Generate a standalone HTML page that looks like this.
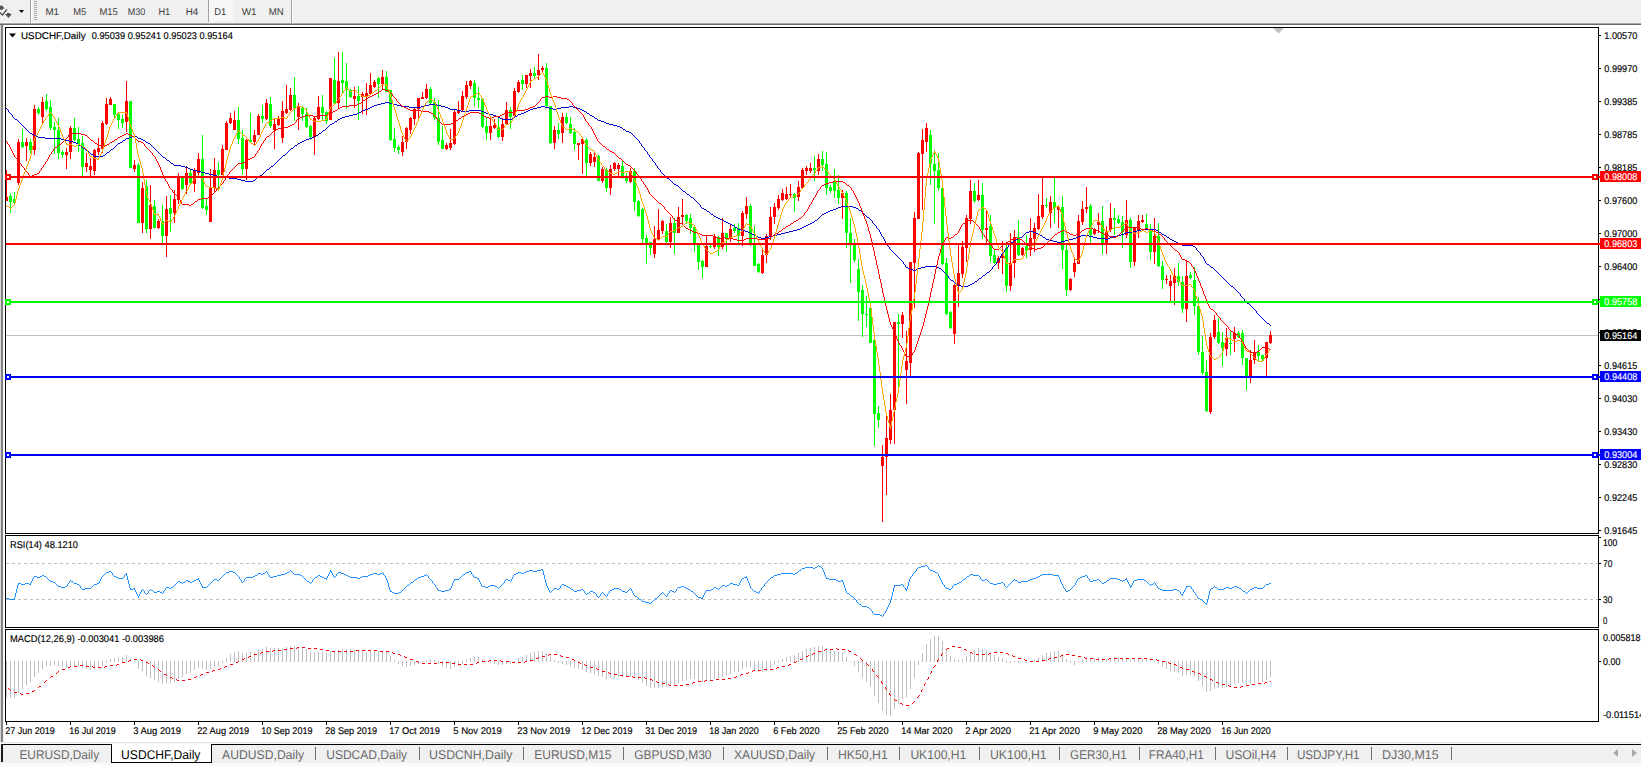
<!DOCTYPE html>
<html><head><meta charset="utf-8"><title>USDCHF,Daily</title>
<style>html,body{margin:0;padding:0;background:#fff;overflow:hidden}svg{display:block}text{font-family:"Liberation Sans",sans-serif;white-space:pre}</style>
</head><body>
<svg width="1641" height="766" viewBox="0 0 1641 766" font-family="Liberation Sans, sans-serif" shape-rendering="crispEdges" text-rendering="geometricPrecision">
<rect x="0" y="0" width="1641" height="766" fill="#fff"/>
<rect x="0" y="0" width="1641" height="23" fill="#f0f0f0"/>
<rect x="0" y="22" width="1641" height="1" fill="#f5f5f5"/>
<rect x="0" y="23" width="1641" height="1" fill="#a8a8a8"/>
<rect x="0" y="24" width="1641" height="1" fill="#696969"/>
<rect x="30" y="0" width="1" height="23" fill="#a0a0a0"/>
<rect x="31" y="0" width="1" height="23" fill="#fff"/>
<rect x="34" y="1" width="3" height="1" fill="#a8a8a8"/>
<rect x="34" y="3" width="3" height="1" fill="#a8a8a8"/>
<rect x="34" y="5" width="3" height="1" fill="#a8a8a8"/>
<rect x="34" y="7" width="3" height="1" fill="#a8a8a8"/>
<rect x="34" y="9" width="3" height="1" fill="#a8a8a8"/>
<rect x="34" y="11" width="3" height="1" fill="#a8a8a8"/>
<rect x="34" y="13" width="3" height="1" fill="#a8a8a8"/>
<rect x="34" y="15" width="3" height="1" fill="#a8a8a8"/>
<rect x="34" y="17" width="3" height="1" fill="#a8a8a8"/>
<rect x="34" y="19" width="3" height="1" fill="#a8a8a8"/>
<g fill="#505050" shape-rendering="geometricPrecision"><path d="M0 6.4 L1.4 5 L4.8 8.4 L3 8.4 L3 9.8 L0 9.8 Z"/><path d="M5 14.1 L11.8 14.1 L8.4 18 Z"/><path d="M7 14.1 V13 H9.8 V14.1Z"/><path d="M0 11.7 L2.4 14 L6.3 9 L7.4 9.9 L2.5 15.9 L0 13.5 Z"/></g>
<path d="M19 10 H24 L21.5 13 Z" fill="#000" shape-rendering="geometricPrecision"/>
<rect x="208" y="0" width="1" height="22" fill="#a0a0a0"/>
<defs><pattern id="chk" width="2" height="2" patternUnits="userSpaceOnUse"><rect width="2" height="2" fill="#f0f0f0"/><rect width="1" height="1" fill="#fff"/><rect x="1" y="1" width="1" height="1" fill="#fff"/></pattern></defs>
<rect x="209" y="0" width="24" height="21" fill="url(#chk)"/>
<rect x="291" y="0" width="1" height="23" fill="#a0a0a0"/>
<rect x="292" y="0" width="1" height="23" fill="#fff"/>
<text x="45.400000000000006" y="15" font-size="9.8" fill="#3c3c3c" stroke="#3c3c3c" stroke-width="0" textLength="13.6" lengthAdjust="spacingAndGlyphs" >M1</text>
<text x="73.3" y="15" font-size="9.8" fill="#3c3c3c" stroke="#3c3c3c" stroke-width="0" textLength="13.0" lengthAdjust="spacingAndGlyphs" >M5</text>
<text x="99.4" y="15" font-size="9.8" fill="#3c3c3c" stroke="#3c3c3c" stroke-width="0" textLength="18.4" lengthAdjust="spacingAndGlyphs" >M15</text>
<text x="127.7" y="15" font-size="9.8" fill="#3c3c3c" stroke="#3c3c3c" stroke-width="0" textLength="17.6" lengthAdjust="spacingAndGlyphs" >M30</text>
<text x="158.39999999999998" y="15" font-size="9.8" fill="#3c3c3c" stroke="#3c3c3c" stroke-width="0" textLength="11.9" lengthAdjust="spacingAndGlyphs" >H1</text>
<text x="185.7" y="15" font-size="9.8" fill="#3c3c3c" stroke="#3c3c3c" stroke-width="0" textLength="12.6" lengthAdjust="spacingAndGlyphs" >H4</text>
<text x="214.29999999999998" y="15" font-size="9.8" fill="#3c3c3c" stroke="#3c3c3c" stroke-width="0" textLength="12.0" lengthAdjust="spacingAndGlyphs" >D1</text>
<text x="241.7" y="15" font-size="9.8" fill="#3c3c3c" stroke="#3c3c3c" stroke-width="0" textLength="15.0" lengthAdjust="spacingAndGlyphs" >W1</text>
<text x="268.7" y="15" font-size="9.8" fill="#3c3c3c" stroke="#3c3c3c" stroke-width="0" textLength="14.9" lengthAdjust="spacingAndGlyphs" >MN</text>
<rect x="1" y="25" width="2" height="717" fill="#828282"/>
<rect x="0" y="25" width="1" height="717" fill="#d8d8d8"/>
<rect x="3" y="25" width="1" height="717" fill="#f4f4f4"/>
<rect x="6" y="335" width="1592" height="1" fill="#c0c0c0"/>
<path fill="#00ff00" d="M10 193h1V213h-1Z M9 196h3V202h-3Z M14 192h1V205h-1Z M13 199h3V203h-3Z M22 129h1V148h-1Z M21 142h3V147h-3Z M30 139h1V153h-1Z M29 142h3V150h-3Z M38 107h1V115h-1Z M37 109h3V113h-3Z M46 94h1V111h-1Z M45 101h3V109h-3Z M50 100h1V130h-1Z M49 107h3V128h-3Z M54 122h1V154h-1Z M53 127h3V130h-3Z M58 118h1V159h-1Z M57 130h3V153h-3Z M62 150h1V158h-1Z M61 152h3V155h-3Z M74 118h1V141h-1Z M73 128h3V140h-3Z M78 127h1V152h-1Z M77 139h3V144h-3Z M82 136h1V176h-1Z M81 143h3V167h-3Z M114 104h1V118h-1Z M113 104h3V115h-3Z M118 113h1V129h-1Z M117 114h3V120h-3Z M122 115h1V128h-1Z M121 119h3V123h-3Z M130 101h1V168h-1Z M129 101h3V168h-3Z M138 163h1V223h-1Z M137 165h3V223h-3Z M146 180h1V233h-1Z M145 186h3V229h-3Z M154 200h1V228h-1Z M153 206h3V228h-3Z M162 205h1V243h-1Z M161 221h3V236h-3Z M170 195h1V232h-1Z M169 208h3V214h-3Z M182 177h1V190h-1Z M181 178h3V189h-3Z M190 169h1V184h-1Z M189 173h3V183h-3Z M202 135h1V209h-1Z M201 159h3V208h-3Z M206 199h1V215h-1Z M205 206h3V210h-3Z M218 162h1V189h-1Z M217 170h3V175h-3Z M238 107h1V144h-1Z M237 120h3V139h-3Z M242 130h1V175h-1Z M241 138h3V169h-3Z M250 113h1V143h-1Z M249 140h3V142h-3Z M262 105h1V123h-1Z M261 116h3V119h-3Z M270 97h1V128h-1Z M269 104h3V126h-3Z M294 77h1V121h-1Z M293 95h3V108h-3Z M302 106h1V121h-1Z M301 108h3V114h-3Z M306 108h1V128h-1Z M305 114h3V127h-3Z M310 125h1V140h-1Z M309 126h3V137h-3Z M322 95h1V121h-1Z M321 107h3V113h-3Z M326 111h1V124h-1Z M325 112h3V121h-3Z M334 58h1V104h-1Z M333 80h3V103h-3Z M342 52h1V94h-1Z M341 80h3V83h-3Z M346 63h1V109h-1Z M345 81h3V90h-3Z M350 89h1V98h-1Z M349 90h3V97h-3Z M358 86h1V120h-1Z M357 96h3V101h-3Z M378 77h1V98h-1Z M377 78h3V84h-3Z M386 71h1V92h-1Z M385 77h3V92h-3Z M390 90h1V141h-1Z M389 90h3V140h-3Z M394 128h1V152h-1Z M393 139h3V148h-3Z M398 145h1V154h-1Z M397 147h3V150h-3Z M430 87h1V104h-1Z M429 89h3V103h-3Z M434 98h1V120h-1Z M433 102h3V118h-3Z M438 100h1V145h-1Z M437 118h3V142h-3Z M442 126h1V149h-1Z M441 140h3V149h-3Z M474 80h1V106h-1Z M473 83h3V98h-3Z M478 87h1V108h-1Z M477 98h3V100h-3Z M482 98h1V128h-1Z M481 99h3V127h-3Z M486 118h1V140h-1Z M485 126h3V133h-3Z M498 116h1V138h-1Z M497 127h3V137h-3Z M510 107h1V129h-1Z M509 110h3V117h-3Z M522 75h1V90h-1Z M521 80h3V84h-3Z M534 67h1V78h-1Z M533 73h3V76h-3Z M546 63h1V107h-1Z M545 68h3V106h-3Z M550 106h1V144h-1Z M549 106h3V143h-3Z M558 123h1V139h-1Z M557 130h3V134h-3Z M566 113h1V124h-1Z M565 117h3V123h-3Z M570 117h1V134h-1Z M569 124h3V133h-3Z M574 128h1V150h-1Z M573 132h3V144h-3Z M586 138h1V176h-1Z M585 140h3V163h-3Z M598 155h1V181h-1Z M597 156h3V181h-3Z M606 168h1V192h-1Z M605 170h3V188h-3Z M622 161h1V179h-1Z M621 166h3V177h-3Z M626 173h1V183h-1Z M625 178h3V181h-3Z M634 168h1V211h-1Z M633 171h3V202h-3Z M638 200h1V217h-1Z M637 201h3V216h-3Z M642 208h1V243h-1Z M641 209h3V239h-3Z M646 235h1V264h-1Z M645 238h3V243h-3Z M650 242h1V255h-1Z M649 242h3V248h-3Z M666 224h1V243h-1Z M665 231h3V242h-3Z M674 218h1V254h-1Z M673 223h3V233h-3Z M686 214h1V224h-1Z M685 215h3V221h-3Z M690 214h1V234h-1Z M689 218h3V228h-3Z M694 225h1V252h-1Z M693 227h3V244h-3Z M698 243h1V270h-1Z M697 244h3V262h-3Z M702 260h1V278h-1Z M701 261h3V267h-3Z M710 245h1V248h-1Z M709 246h3V247h-3Z M718 236h1V256h-1Z M717 237h3V247h-3Z M726 233h1V252h-1Z M725 233h3V239h-3Z M734 224h1V233h-1Z M733 228h3V231h-3Z M738 223h1V243h-1Z M737 228h3V236h-3Z M750 204h1V246h-1Z M749 206h3V243h-3Z M754 226h1V266h-1Z M753 243h3V266h-3Z M758 263h1V273h-1Z M757 264h3V272h-3Z M794 193h1V212h-1Z M793 194h3V198h-3Z M814 156h1V181h-1Z M813 168h3V170h-3Z M822 151h1V171h-1Z M821 159h3V165h-3Z M826 152h1V195h-1Z M825 164h3V188h-3Z M830 185h1V193h-1Z M829 187h3V191h-3Z M834 169h1V198h-1Z M833 182h3V191h-3Z M838 175h1V204h-1Z M837 190h3V198h-3Z M846 191h1V248h-1Z M845 193h3V233h-3Z M850 218h1V283h-1Z M849 233h3V244h-3Z M854 239h1V262h-1Z M853 244h3V260h-3Z M858 259h1V321h-1Z M857 269h3V292h-3Z M862 285h1V337h-1Z M861 290h3V314h-3Z M866 296h1V327h-1Z M865 314h3V315h-3Z M870 308h1V343h-1Z M869 308h3V343h-3Z M874 340h1V446h-1Z M873 340h3V414h-3Z M878 406h1V428h-1Z M877 413h3V420h-3Z M898 314h1V388h-1Z M897 322h3V324h-3Z M930 130h1V185h-1Z M929 135h3V164h-3Z M934 150h1V224h-1Z M933 164h3V171h-3Z M938 153h1V191h-1Z M937 170h3V188h-3Z M942 188h1V265h-1Z M941 188h3V264h-3Z M946 258h1V315h-1Z M945 263h3V314h-3Z M950 311h1V329h-1Z M949 312h3V328h-3Z M974 183h1V203h-1Z M973 191h3V201h-3Z M982 183h1V239h-1Z M981 195h3V230h-3Z M990 215h1V262h-1Z M989 226h3V256h-3Z M994 249h1V264h-1Z M993 255h3V263h-3Z M1006 245h1V292h-1Z M1005 248h3V286h-3Z M1018 220h1V256h-1Z M1017 237h3V255h-3Z M1026 235h1V258h-1Z M1025 246h3V251h-3Z M1046 198h1V208h-1Z M1045 205h3V206h-3Z M1054 178h1V223h-1Z M1053 202h3V208h-3Z M1062 196h1V269h-1Z M1061 207h3V250h-3Z M1066 245h1V296h-1Z M1065 250h3V290h-3Z M1090 204h1V243h-1Z M1089 206h3V235h-3Z M1102 206h1V254h-1Z M1101 221h3V243h-3Z M1114 208h1V235h-1Z M1113 218h3V220h-3Z M1118 215h1V224h-1Z M1117 219h3V223h-3Z M1122 216h1V248h-1Z M1121 222h3V232h-3Z M1130 218h1V268h-1Z M1129 220h3V262h-3Z M1146 214h1V230h-1Z M1145 224h3V229h-3Z M1150 224h1V260h-1Z M1149 229h3V252h-3Z M1158 223h1V267h-1Z M1157 236h3V266h-3Z M1162 261h1V289h-1Z M1161 266h3V280h-3Z M1178 263h1V286h-1Z M1177 276h3V282h-3Z M1182 276h1V313h-1Z M1181 282h3V309h-3Z M1190 272h1V279h-1Z M1189 275h3V278h-3Z M1194 267h1V315h-1Z M1193 280h3V306h-3Z M1198 297h1V355h-1Z M1197 306h3V352h-3Z M1202 336h1V375h-1Z M1201 352h3V373h-3Z M1206 360h1V412h-1Z M1205 372h3V411h-3Z M1218 318h1V344h-1Z M1217 332h3V343h-3Z M1222 332h1V366h-1Z M1221 342h3V348h-3Z M1230 331h1V355h-1Z M1229 343h3V344h-3Z M1238 331h1V338h-1Z M1237 333h3V337h-3Z M1242 330h1V365h-1Z M1241 333h3V358h-3Z M1246 358h1V390h-1Z M1245 358h3V378h-3Z M1258 345h1V362h-1Z M1257 352h3V356h-3Z M1262 355h1V362h-1Z M1261 355h3V359h-3Z"/>
<path fill="#ff0000" d="M6 170h1V201h-1Z M5 197h3V201h-3Z M18 139h1V185h-1Z M17 142h3V183h-3Z M26 138h1V161h-1Z M25 142h3V146h-3Z M34 105h1V155h-1Z M33 109h3V150h-3Z M42 97h1V124h-1Z M41 102h3V117h-3Z M66 148h1V169h-1Z M65 152h3V155h-3Z M70 126h1V159h-1Z M69 128h3V152h-3Z M86 153h1V172h-1Z M85 163h3V167h-3Z M90 158h1V176h-1Z M89 166h3V170h-3Z M94 149h1V175h-1Z M93 150h3V171h-3Z M98 138h1V155h-1Z M97 148h3V152h-3Z M102 121h1V153h-1Z M101 123h3V149h-3Z M106 98h1V125h-1Z M105 104h3V124h-3Z M110 97h1V105h-1Z M109 99h3V105h-3Z M126 81h1V132h-1Z M125 101h3V122h-3Z M134 160h1V172h-1Z M133 165h3V169h-3Z M142 182h1V233h-1Z M141 188h3V223h-3Z M150 185h1V239h-1Z M149 205h3V229h-3Z M158 219h1V229h-1Z M157 221h3V228h-3Z M166 196h1V257h-1Z M165 209h3V236h-3Z M174 190h1V223h-1Z M173 199h3V213h-3Z M178 173h1V204h-1Z M177 178h3V200h-3Z M186 166h1V194h-1Z M185 173h3V185h-3Z M194 168h1V192h-1Z M193 170h3V184h-3Z M198 153h1V175h-1Z M197 159h3V173h-3Z M210 169h1V222h-1Z M209 188h3V222h-3Z M214 158h1V193h-1Z M213 170h3V188h-3Z M222 145h1V175h-1Z M221 149h3V175h-3Z M226 121h1V150h-1Z M225 123h3V150h-3Z M230 113h1V124h-1Z M229 118h3V123h-3Z M234 111h1V130h-1Z M233 120h3V130h-3Z M246 139h1V180h-1Z M245 140h3V169h-3Z M254 130h1V145h-1Z M253 135h3V142h-3Z M258 114h1V135h-1Z M257 116h3V135h-3Z M266 99h1V120h-1Z M265 103h3V119h-3Z M274 118h1V149h-1Z M273 124h3V130h-3Z M278 116h1V126h-1Z M277 119h3V125h-3Z M282 101h1V143h-1Z M281 111h3V138h-3Z M286 85h1V114h-1Z M285 109h3V113h-3Z M290 88h1V111h-1Z M289 95h3V110h-3Z M298 103h1V130h-1Z M297 106h3V117h-3Z M314 116h1V155h-1Z M313 118h3V137h-3Z M318 96h1V120h-1Z M317 107h3V119h-3Z M330 78h1V120h-1Z M329 78h3V120h-3Z M338 52h1V108h-1Z M337 81h3V103h-3Z M354 87h1V108h-1Z M353 96h3V99h-3Z M362 92h1V114h-1Z M361 94h3V97h-3Z M366 83h1V115h-1Z M365 93h3V96h-3Z M370 73h1V94h-1Z M369 85h3V94h-3Z M374 80h1V88h-1Z M373 82h3V87h-3Z M382 70h1V90h-1Z M381 77h3V84h-3Z M402 136h1V156h-1Z M401 142h3V152h-3Z M406 127h1V149h-1Z M405 128h3V142h-3Z M410 117h1V134h-1Z M409 118h3V130h-3Z M414 108h1V125h-1Z M413 109h3V119h-3Z M418 98h1V118h-1Z M417 98h3V109h-3Z M422 92h1V99h-1Z M421 97h3V99h-3Z M426 84h1V99h-1Z M425 89h3V98h-3Z M446 143h1V150h-1Z M445 145h3V149h-3Z M450 129h1V150h-1Z M449 143h3V148h-3Z M454 110h1V145h-1Z M453 112h3V144h-3Z M458 101h1V114h-1Z M457 110h3V113h-3Z M462 91h1V111h-1Z M461 96h3V110h-3Z M466 81h1V99h-1Z M465 85h3V97h-3Z M470 80h1V89h-1Z M469 81h3V86h-3Z M490 117h1V140h-1Z M489 126h3V133h-3Z M494 119h1V129h-1Z M493 125h3V128h-3Z M502 118h1V141h-1Z M501 124h3V137h-3Z M506 102h1V125h-1Z M505 110h3V124h-3Z M514 88h1V117h-1Z M513 91h3V116h-3Z M518 80h1V93h-1Z M517 82h3V92h-3Z M526 75h1V88h-1Z M525 75h3V84h-3Z M530 69h1V88h-1Z M529 73h3V76h-3Z M538 54h1V80h-1Z M537 70h3V75h-3Z M542 66h1V72h-1Z M541 68h3V70h-3Z M554 126h1V149h-1Z M553 130h3V143h-3Z M562 113h1V143h-1Z M561 117h3V133h-3Z M578 143h1V160h-1Z M577 143h3V145h-3Z M582 137h1V174h-1Z M581 139h3V144h-3Z M590 152h1V166h-1Z M589 154h3V163h-3Z M594 151h1V167h-1Z M593 157h3V162h-3Z M602 167h1V183h-1Z M601 169h3V181h-3Z M610 165h1V195h-1Z M609 169h3V188h-3Z M614 162h1V171h-1Z M613 163h3V169h-3Z M618 163h1V176h-1Z M617 165h3V169h-3Z M630 168h1V183h-1Z M629 171h3V182h-3Z M654 226h1V258h-1Z M653 239h3V254h-3Z M658 209h1V240h-1Z M657 230h3V239h-3Z M662 220h1V234h-1Z M661 221h3V231h-3Z M670 217h1V248h-1Z M669 223h3V242h-3Z M678 207h1V233h-1Z M677 217h3V233h-3Z M682 199h1V224h-1Z M681 215h3V217h-3Z M706 235h1V267h-1Z M705 246h3V267h-3Z M714 234h1V249h-1Z M713 236h3V247h-3Z M722 218h1V249h-1Z M721 233h3V247h-3Z M730 224h1V242h-1Z M729 229h3V239h-3Z M742 211h1V246h-1Z M741 213h3V236h-3Z M746 197h1V219h-1Z M745 206h3V214h-3Z M762 250h1V274h-1Z M761 255h3V273h-3Z M766 234h1V263h-1Z M765 236h3V255h-3Z M770 207h1V240h-1Z M769 217h3V237h-3Z M774 203h1V224h-1Z M773 207h3V217h-3Z M778 195h1V210h-1Z M777 199h3V208h-3Z M782 189h1V201h-1Z M781 193h3V200h-3Z M786 187h1V200h-1Z M785 194h3V199h-3Z M790 184h1V198h-1Z M789 194h3V195h-3Z M798 181h1V201h-1Z M797 187h3V197h-3Z M802 168h1V188h-1Z M801 170h3V188h-3Z M806 166h1V175h-1Z M805 168h3V171h-3Z M810 163h1V173h-1Z M809 168h3V171h-3Z M818 154h1V175h-1Z M817 159h3V171h-3Z M842 190h1V219h-1Z M841 193h3V198h-3Z M882 445h1V522h-1Z M881 457h3V466h-3Z M886 416h1V495h-1Z M885 438h3V457h-3Z M890 394h1V444h-1Z M889 410h3V440h-3Z M894 322h1V444h-1Z M893 322h3V410h-3Z M902 312h1V338h-1Z M901 315h3V324h-3Z M906 331h1V404h-1Z M905 361h3V370h-3Z M910 262h1V377h-1Z M909 262h3V363h-3Z M914 212h1V308h-1Z M913 218h3V263h-3Z M918 152h1V219h-1Z M917 153h3V219h-3Z M922 129h1V210h-1Z M921 140h3V154h-3Z M926 123h1V152h-1Z M925 128h3V142h-3Z M954 284h1V344h-1Z M953 285h3V334h-3Z M958 243h1V307h-1Z M957 273h3V286h-3Z M962 241h1V278h-1Z M961 247h3V274h-3Z M966 215h1V262h-1Z M965 218h3V248h-3Z M970 180h1V224h-1Z M969 191h3V219h-3Z M978 180h1V201h-1Z M977 195h3V200h-3Z M986 211h1V243h-1Z M985 228h3V230h-3Z M998 256h1V269h-1Z M997 258h3V263h-3Z M1002 241h1V274h-1Z M1001 254h3V258h-3Z M1010 233h1V291h-1Z M1009 263h3V286h-3Z M1014 230h1V278h-1Z M1013 237h3V263h-3Z M1022 247h1V256h-1Z M1021 248h3V255h-3Z M1030 218h1V256h-1Z M1029 238h3V250h-3Z M1034 223h1V252h-1Z M1033 228h3V239h-3Z M1038 194h1V230h-1Z M1037 216h3V229h-3Z M1042 177h1V219h-1Z M1041 205h3V217h-3Z M1050 196h1V228h-1Z M1049 202h3V213h-3Z M1058 205h1V228h-1Z M1057 207h3V210h-3Z M1070 278h1V291h-1Z M1069 279h3V290h-3Z M1074 258h1V277h-1Z M1073 263h3V272h-3Z M1078 215h1V264h-1Z M1077 221h3V264h-3Z M1082 201h1V225h-1Z M1081 209h3V222h-3Z M1086 187h1V213h-1Z M1085 207h3V209h-3Z M1094 228h1V235h-1Z M1093 229h3V234h-3Z M1098 213h1V233h-1Z M1097 222h3V225h-3Z M1106 226h1V254h-1Z M1105 232h3V244h-3Z M1110 203h1V232h-1Z M1109 218h3V230h-3Z M1126 200h1V238h-1Z M1125 220h3V235h-3Z M1134 227h1V266h-1Z M1133 228h3V262h-3Z M1138 215h1V238h-1Z M1137 221h3V230h-3Z M1142 215h1V223h-1Z M1141 220h3V222h-3Z M1154 218h1V264h-1Z M1153 236h3V252h-3Z M1166 275h1V284h-1Z M1165 279h3V280h-3Z M1170 275h1V301h-1Z M1169 281h3V286h-3Z M1174 268h1V305h-1Z M1173 276h3V283h-3Z M1186 261h1V322h-1Z M1185 276h3V309h-3Z M1210 333h1V414h-1Z M1209 337h3V412h-3Z M1214 315h1V339h-1Z M1213 320h3V337h-3Z M1226 328h1V356h-1Z M1225 338h3V349h-3Z M1234 327h1V352h-1Z M1233 333h3V339h-3Z M1250 350h1V383h-1Z M1249 360h3V378h-3Z M1254 340h1V364h-1Z M1253 352h3V360h-3Z M1266 342h1V376h-1Z M1265 342h3V358h-3Z M1270 331h1V344h-1Z M1269 335h3V343h-3Z"/>
<defs><clipPath id="cp"><rect x="6" y="28" width="1592" height="693"/></clipPath></defs>
<path fill="#0000cd" d="M6 108h1v1h-1zM7 109h1v1h-1zM8 110h1v2h-1zM9 112h1v1h-1zM10 113h1v1h-1zM11 114h1v1h-1zM12 115h1v2h-1zM13 117h1v1h-1zM14 118h1v1h-1zM15 119h2v1h-2zM17 120h1v1h-1zM18 121h1v1h-1zM19 122h1v1h-1zM20 123h1v1h-1zM21 124h1v1h-1zM22 125h1v1h-1zM23 126h1v1h-1zM24 127h1v1h-1zM25 128h1v1h-1zM26 129h1v1h-1zM27 130h1v1h-1zM28 131h1v1h-1zM29 132h1v1h-1zM30 133h2v1h-2zM32 134h2v1h-2zM34 135h2v1h-2zM36 136h2v1h-2zM38 137h7v1h-7zM45 138h16v1h-16zM61 139h4v1h-4zM65 140h4v1h-4zM69 141h4v1h-4zM73 142h3v1h-3zM76 143h2v1h-2zM78 144h1v1h-1zM79 145h2v1h-2zM81 146h1v1h-1zM82 147h1v1h-1zM83 148h2v1h-2zM85 149h1v1h-1zM86 150h1v1h-1zM87 151h2v1h-2zM89 152h1v1h-1zM90 153h1v1h-1zM91 154h2v1h-2zM93 155h1v1h-1zM94 156h9v1h-9zM103 155h2v1h-2zM105 154h1v1h-1zM106 153h1v1h-1zM107 152h2v1h-2zM109 151h1v1h-1zM110 150h1v1h-1zM111 149h2v1h-2zM113 148h1v1h-1zM114 147h1v1h-1zM115 146h1v1h-1zM116 145h1v1h-1zM117 144h1v1h-1zM118 143h2v1h-2zM120 142h2v1h-2zM122 141h1v1h-1zM123 140h2v1h-2zM125 139h1v1h-1zM126 138h3v1h-3zM129 137h3v1h-3zM132 136h2v1h-2zM134 135h1v1h-1zM135 136h2v1h-2zM137 137h1v1h-1zM138 138h3v1h-3zM141 139h2v1h-2zM143 140h2v1h-2zM145 141h1v1h-1zM146 142h2v1h-2zM148 143h2v1h-2zM150 144h1v1h-1zM151 145h1v1h-1zM152 146h1v1h-1zM153 147h1v1h-1zM154 148h1v1h-1zM155 149h1v1h-1zM156 150h1v1h-1zM157 151h1v1h-1zM158 152h1v1h-1zM159 153h1v1h-1zM160 154h1v1h-1zM161 155h1v1h-1zM162 156h1v1h-1zM163 157h2v1h-2zM165 158h1v1h-1zM166 159h1v1h-1zM167 160h2v1h-2zM169 161h1v1h-1zM170 162h1v1h-1zM171 163h2v1h-2zM173 164h1v1h-1zM174 165h7v1h-7zM181 166h4v1h-4zM185 167h3v1h-3zM188 168h2v1h-2zM190 169h3v1h-3zM193 170h4v1h-4zM197 171h4v1h-4zM201 172h4v1h-4zM205 173h4v1h-4zM209 174h4v1h-4zM213 175h4v1h-4zM217 176h4v1h-4zM221 177h8v1h-8zM229 178h8v1h-8zM237 179h4v1h-4zM241 180h4v1h-4zM245 181h8v1h-8zM253 180h2v1h-2zM255 179h1v1h-1zM256 178h1v1h-1zM257 177h1v1h-1zM258 176h2v1h-2zM260 175h2v1h-2zM262 174h1v1h-1zM263 173h1v1h-1zM264 172h1v1h-1zM265 171h1v1h-1zM266 170h1v1h-1zM267 169h2v1h-2zM269 168h1v1h-1zM270 167h1v1h-1zM271 166h2v1h-2zM273 165h1v1h-1zM274 164h1v1h-1zM275 163h1v1h-1zM276 162h1v1h-1zM277 161h1v1h-1zM278 160h1v1h-1zM279 159h1v1h-1zM280 158h1v1h-1zM281 157h1v1h-1zM282 156h1v1h-1zM283 155h2v1h-2zM285 154h1v1h-1zM286 153h1v1h-1zM287 152h1v1h-1zM288 151h1v1h-1zM289 150h1v1h-1zM290 149h1v1h-1zM291 148h2v1h-2zM293 147h1v1h-1zM294 146h1v1h-1zM295 145h2v1h-2zM297 144h1v1h-1zM298 143h2v1h-2zM300 142h2v1h-2zM302 141h2v1h-2zM304 140h2v1h-2zM306 139h3v1h-3zM309 138h3v1h-3zM312 137h2v1h-2zM314 136h2v1h-2zM316 135h2v1h-2zM318 134h1v1h-1zM319 133h2v1h-2zM321 132h1v1h-1zM322 131h1v1h-1zM323 130h2v1h-2zM325 129h1v1h-1zM326 128h1v1h-1zM327 127h1v1h-1zM328 126h1v1h-1zM329 125h1v1h-1zM330 124h2v1h-2zM332 123h2v1h-2zM334 122h1v1h-1zM335 121h2v1h-2zM337 120h1v1h-1zM338 119h2v1h-2zM340 118h2v1h-2zM342 117h3v1h-3zM345 116h4v1h-4zM349 115h4v1h-4zM353 114h4v1h-4zM357 113h2v1h-2zM359 112h2v1h-2zM361 111h1v1h-1zM362 110h3v1h-3zM365 109h3v1h-3zM368 108h2v1h-2zM370 107h2v1h-2zM372 106h2v1h-2zM374 105h3v1h-3zM377 104h4v1h-4zM381 103h4v1h-4zM385 102h4v1h-4zM389 103h4v1h-4zM393 104h4v1h-4zM397 105h4v1h-4zM401 106h8v1h-8zM409 107h12v1h-12zM421 106h4v1h-4zM425 105h4v1h-4zM429 104h8v1h-8zM437 105h4v1h-4zM441 106h4v1h-4zM445 107h3v1h-3zM448 108h2v1h-2zM450 109h7v1h-7zM457 110h4v1h-4zM461 111h8v1h-8zM469 110h12v1h-12zM481 111h3v1h-3zM484 112h2v1h-2zM486 113h3v1h-3zM489 114h4v1h-4zM493 115h3v1h-3zM496 116h2v1h-2zM498 117h2v1h-2zM500 118h2v1h-2zM502 119h10v1h-10zM512 118h2v1h-2zM514 117h1v1h-1zM515 116h2v1h-2zM517 115h1v1h-1zM518 114h3v1h-3zM521 113h3v1h-3zM524 112h2v1h-2zM526 111h2v1h-2zM528 110h2v1h-2zM530 109h3v1h-3zM533 108h4v1h-4zM537 107h4v1h-4zM541 106h4v1h-4zM545 107h4v1h-4zM549 108h4v1h-4zM553 109h4v1h-4zM557 108h4v1h-4zM561 107h8v1h-8zM569 106h4v1h-4zM573 107h4v1h-4zM577 108h3v1h-3zM580 109h2v1h-2zM582 110h2v1h-2zM584 111h2v1h-2zM586 112h1v1h-1zM587 113h2v1h-2zM589 114h1v1h-1zM590 115h2v1h-2zM592 116h2v1h-2zM594 117h1v1h-1zM595 118h2v1h-2zM597 119h1v1h-1zM598 120h3v1h-3zM601 121h3v1h-3zM604 122h2v1h-2zM606 123h3v1h-3zM609 124h4v1h-4zM613 125h4v1h-4zM617 126h3v1h-3zM620 127h2v1h-2zM622 128h1v1h-1zM623 129h2v1h-2zM625 130h1v1h-1zM626 131h3v1h-3zM629 132h2v1h-2zM631 133h1v1h-1zM632 134h1v1h-1zM633 135h1v1h-1zM634 136h1v1h-1zM635 137h1v1h-1zM636 138h1v1h-1zM637 139h1v1h-1zM638 140h1v1h-1zM639 141h1v2h-1zM640 143h1v1h-1zM641 144h1v2h-1zM642 146h1v1h-1zM643 147h1v1h-1zM644 148h1v2h-1zM645 150h1v1h-1zM646 151h1v1h-1zM647 152h1v2h-1zM648 154h1v1h-1zM649 155h1v2h-1zM650 157h1v1h-1zM651 158h1v1h-1zM652 159h1v2h-1zM653 161h1v1h-1zM654 162h1v1h-1zM655 163h1v2h-1zM656 165h1v1h-1zM657 166h1v2h-1zM658 168h1v1h-1zM659 169h1v1h-1zM660 170h1v2h-1zM661 172h1v1h-1zM662 173h1v1h-1zM663 174h1v1h-1zM664 175h1v1h-1zM665 176h1v1h-1zM666 177h1v1h-1zM667 178h2v1h-2zM669 179h1v1h-1zM670 180h1v1h-1zM671 181h1v1h-1zM672 182h1v1h-1zM673 183h1v1h-1zM674 184h2v1h-2zM676 185h2v1h-2zM678 186h1v1h-1zM679 187h1v1h-1zM680 188h1v1h-1zM681 189h1v1h-1zM682 190h1v1h-1zM683 191h2v1h-2zM685 192h1v1h-1zM686 193h1v1h-1zM687 194h2v1h-2zM689 195h1v1h-1zM690 196h1v1h-1zM691 197h2v1h-2zM693 198h1v1h-1zM694 199h1v1h-1zM695 200h1v1h-1zM696 201h1v1h-1zM697 202h1v1h-1zM698 203h1v1h-1zM699 204h1v1h-1zM700 205h1v2h-1zM701 207h1v1h-1zM702 208h2v1h-2zM704 209h2v1h-2zM706 210h1v1h-1zM707 211h2v1h-2zM709 212h1v1h-1zM710 213h1v1h-1zM711 214h2v1h-2zM713 215h1v1h-1zM714 216h2v1h-2zM716 217h2v1h-2zM718 218h2v1h-2zM720 219h2v1h-2zM722 220h2v1h-2zM724 221h2v1h-2zM726 222h2v1h-2zM728 223h2v1h-2zM730 224h2v1h-2zM732 225h2v1h-2zM734 226h1v1h-1zM735 227h2v1h-2zM737 228h1v1h-1zM738 229h3v1h-3zM741 230h4v1h-4zM745 231h3v1h-3zM748 232h2v1h-2zM750 233h2v1h-2zM752 234h2v1h-2zM754 235h2v1h-2zM756 236h2v1h-2zM758 237h3v1h-3zM761 238h4v1h-4zM765 237h4v1h-4zM769 236h4v1h-4zM773 235h4v1h-4zM777 234h4v1h-4zM781 233h4v1h-4zM785 232h4v1h-4zM789 231h4v1h-4zM793 230h4v1h-4zM797 229h3v1h-3zM800 228h2v1h-2zM802 227h2v1h-2zM804 226h2v1h-2zM806 225h2v1h-2zM808 224h2v1h-2zM810 223h2v1h-2zM812 222h2v1h-2zM814 221h1v1h-1zM815 220h2v1h-2zM817 219h1v1h-1zM818 218h1v1h-1zM819 217h1v1h-1zM820 216h1v1h-1zM821 215h1v1h-1zM822 214h2v1h-2zM824 213h2v1h-2zM826 212h2v1h-2zM828 211h2v1h-2zM830 210h3v1h-3zM833 209h3v1h-3zM836 208h2v1h-2zM838 207h3v1h-3zM841 206h12v1h-12zM853 207h3v1h-3zM856 208h2v1h-2zM858 209h1v1h-1zM859 210h2v1h-2zM861 211h1v1h-1zM862 212h1v1h-1zM863 213h1v1h-1zM864 214h1v1h-1zM865 215h1v1h-1zM866 216h1v1h-1zM867 217h2v1h-2zM869 218h1v1h-1zM870 219h1v1h-1zM871 220h1v1h-1zM872 221h1v2h-1zM873 223h1v1h-1zM874 224h1v1h-1zM875 225h1v1h-1zM876 226h1v2h-1zM877 228h1v1h-1zM878 229h1v1h-1zM879 230h1v2h-1zM880 232h1v2h-1zM881 234h1v2h-1zM882 236h1v1h-1zM883 237h1v2h-1zM884 239h1v2h-1zM885 241h1v2h-1zM886 243h1v1h-1zM887 244h1v2h-1zM888 246h1v1h-1zM889 247h1v2h-1zM890 249h1v1h-1zM891 250h1v1h-1zM892 251h1v1h-1zM893 252h1v1h-1zM894 253h1v1h-1zM895 254h1v1h-1zM896 255h1v1h-1zM897 256h1v1h-1zM898 257h1v1h-1zM899 258h1v1h-1zM900 259h1v1h-1zM901 260h1v1h-1zM902 261h1v1h-1zM903 262h1v2h-1zM904 264h1v1h-1zM905 265h1v2h-1zM906 267h2v1h-2zM908 268h2v1h-2zM910 269h3v1h-3zM913 270h3v1h-3zM916 269h2v1h-2zM918 268h3v1h-3zM921 267h4v1h-4zM925 266h12v1h-12zM937 267h2v1h-2zM939 268h2v1h-2zM941 269h1v1h-1zM942 270h1v1h-1zM943 271h1v1h-1zM944 272h1v1h-1zM945 273h1v1h-1zM946 274h1v1h-1zM947 275h1v1h-1zM948 276h1v2h-1zM949 278h1v1h-1zM950 279h1v1h-1zM951 280h2v1h-2zM953 281h1v1h-1zM954 282h1v1h-1zM955 283h2v1h-2zM957 284h1v1h-1zM958 285h3v1h-3zM961 286h7v1h-7zM968 285h2v1h-2zM970 284h2v1h-2zM972 283h2v1h-2zM974 282h1v1h-1zM975 281h2v1h-2zM977 280h1v1h-1zM978 279h1v1h-1zM979 278h2v1h-2zM981 277h1v1h-1zM982 276h1v1h-1zM983 275h2v1h-2zM985 274h1v1h-1zM986 273h1v1h-1zM987 272h2v1h-2zM989 271h1v1h-1zM990 270h1v1h-1zM991 269h1v1h-1zM992 267h1v2h-1zM993 266h1v1h-1zM994 265h1v1h-1zM995 264h1v1h-1zM996 262h1v2h-1zM997 261h1v1h-1zM998 260h1v1h-1zM999 258h1v2h-1zM1000 256h1v2h-1zM1001 254h1v2h-1zM1002 253h1v1h-1zM1003 252h1v1h-1zM1004 250h1v2h-1zM1005 249h1v1h-1zM1006 248h1v1h-1zM1007 247h1v1h-1zM1008 245h1v2h-1zM1009 244h1v1h-1zM1010 243h1v1h-1zM1011 242h2v1h-2zM1013 241h1v1h-1zM1014 240h2v1h-2zM1016 239h2v1h-2zM1018 238h2v1h-2zM1020 237h2v1h-2zM1022 236h1v1h-1zM1023 235h1v1h-1zM1024 234h1v1h-1zM1025 233h1v1h-1zM1026 232h3v1h-3zM1029 231h4v1h-4zM1033 232h3v1h-3zM1036 233h2v1h-2zM1038 234h2v1h-2zM1040 235h2v1h-2zM1042 236h1v1h-1zM1043 237h2v1h-2zM1045 238h1v1h-1zM1046 239h3v1h-3zM1049 240h4v1h-4zM1053 241h4v1h-4zM1057 242h4v1h-4zM1061 241h4v1h-4zM1065 240h4v1h-4zM1069 239h4v1h-4zM1073 238h3v1h-3zM1076 237h2v1h-2zM1078 236h3v1h-3zM1081 235h8v1h-8zM1089 236h4v1h-4zM1093 237h4v1h-4zM1097 238h8v1h-8zM1105 239h3v1h-3zM1108 238h2v1h-2zM1110 237h3v1h-3zM1113 236h4v1h-4zM1117 235h4v1h-4zM1121 234h3v1h-3zM1124 233h2v1h-2zM1126 232h7v1h-7zM1133 231h4v1h-4zM1137 230h4v1h-4zM1141 229h15v1h-15zM1156 230h2v1h-2zM1158 231h1v1h-1zM1159 232h2v1h-2zM1161 233h1v1h-1zM1162 234h2v1h-2zM1164 235h2v1h-2zM1166 236h1v1h-1zM1167 237h2v1h-2zM1169 238h1v1h-1zM1170 239h2v1h-2zM1172 240h2v1h-2zM1174 241h2v1h-2zM1176 242h2v1h-2zM1178 243h2v1h-2zM1180 244h2v1h-2zM1182 245h11v1h-11zM1193 246h2v1h-2zM1195 247h1v1h-1zM1196 248h1v2h-1zM1197 250h1v1h-1zM1198 251h1v1h-1zM1199 252h1v1h-1zM1200 253h1v2h-1zM1201 255h1v1h-1zM1202 256h1v1h-1zM1203 257h1v2h-1zM1204 259h1v2h-1zM1205 261h1v2h-1zM1206 263h1v1h-1zM1207 264h2v1h-2zM1209 265h1v1h-1zM1210 266h1v1h-1zM1211 267h2v1h-2zM1213 268h1v1h-1zM1214 269h1v1h-1zM1215 270h1v1h-1zM1216 271h1v1h-1zM1217 272h1v1h-1zM1218 273h1v1h-1zM1219 274h1v1h-1zM1220 275h1v1h-1zM1221 276h1v1h-1zM1222 277h1v1h-1zM1223 278h1v1h-1zM1224 279h1v1h-1zM1225 280h1v1h-1zM1226 281h1v1h-1zM1227 282h1v1h-1zM1228 283h1v1h-1zM1229 284h1v1h-1zM1230 285h1v1h-1zM1231 286h2v1h-2zM1233 287h1v1h-1zM1234 288h1v1h-1zM1235 289h1v1h-1zM1236 290h1v1h-1zM1237 291h1v1h-1zM1238 292h1v1h-1zM1239 293h1v1h-1zM1240 294h1v2h-1zM1241 296h1v1h-1zM1242 297h1v1h-1zM1243 298h1v1h-1zM1244 299h1v2h-1zM1245 301h1v1h-1zM1246 302h1v1h-1zM1247 303h2v1h-2zM1249 304h1v1h-1zM1250 305h1v1h-1zM1251 306h1v1h-1zM1252 307h1v1h-1zM1253 308h1v1h-1zM1254 309h1v1h-1zM1255 310h1v1h-1zM1256 311h1v2h-1zM1257 313h1v1h-1zM1258 314h1v1h-1zM1259 315h1v1h-1zM1260 316h1v1h-1zM1261 317h1v1h-1zM1262 318h1v1h-1zM1263 319h1v1h-1zM1264 320h1v1h-1zM1265 321h1v1h-1zM1266 322h1v1h-1zM1267 323h2v1h-2zM1269 324h1v1h-1zM1270 325h1v1h-1z"/>
<path fill="#ff0000" d="M6 141h1v1h-1zM7 142h1v2h-1zM8 144h1v1h-1zM9 145h1v2h-1zM10 147h1v2h-1zM11 149h1v2h-1zM12 151h1v2h-1zM13 153h1v2h-1zM14 155h1v2h-1zM15 157h1v1h-1zM16 158h1v1h-1zM17 159h1v1h-1zM18 160h1v1h-1zM19 161h1v2h-1zM20 163h1v1h-1zM21 164h1v2h-1zM22 166h1v1h-1zM23 167h1v1h-1zM24 168h1v2h-1zM25 170h1v1h-1zM26 171h1v1h-1zM27 172h1v1h-1zM28 173h1v2h-1zM29 175h1v1h-1zM30 176h2v1h-2zM32 175h2v1h-2zM34 174h3v1h-3zM37 173h2v1h-2zM39 171h1v2h-1zM40 170h1v1h-1zM41 168h1v2h-1zM42 167h1v1h-1zM43 165h1v2h-1zM44 164h1v1h-1zM45 162h1v2h-1zM46 161h1v1h-1zM47 159h1v2h-1zM48 157h1v2h-1zM49 155h1v2h-1zM50 154h1v1h-1zM51 152h1v2h-1zM52 151h1v1h-1zM53 149h1v2h-1zM54 148h1v1h-1zM55 147h2v1h-2zM57 146h1v1h-1zM58 145h1v1h-1zM59 144h2v1h-2zM61 143h1v1h-1zM62 142h1v1h-1zM63 141h1v1h-1zM64 140h1v1h-1zM65 139h1v1h-1zM66 138h1v1h-1zM67 137h1v1h-1zM68 135h1v2h-1zM69 134h1v1h-1zM70 133h11v1h-11zM81 134h4v1h-4zM85 135h2v1h-2zM87 136h1v1h-1zM88 137h1v1h-1zM89 138h1v1h-1zM90 139h1v1h-1zM91 140h2v1h-2zM93 141h1v1h-1zM94 142h1v1h-1zM95 143h2v1h-2zM97 144h1v1h-1zM98 145h3v1h-3zM101 146h4v1h-4zM105 145h2v1h-2zM107 144h2v1h-2zM109 143h1v1h-1zM110 142h2v1h-2zM112 141h2v1h-2zM114 140h1v1h-1zM115 139h2v1h-2zM117 138h1v1h-1zM118 137h2v1h-2zM120 136h2v1h-2zM122 135h2v1h-2zM124 134h2v1h-2zM126 133h2v1h-2zM128 134h2v1h-2zM130 135h2v1h-2zM132 136h2v1h-2zM134 137h1v1h-1zM135 138h1v1h-1zM136 139h1v1h-1zM137 140h1v1h-1zM138 141h3v1h-3zM141 142h2v1h-2zM143 143h1v1h-1zM144 144h1v2h-1zM145 146h1v1h-1zM146 147h1v1h-1zM147 148h1v1h-1zM148 149h1v1h-1zM149 150h1v1h-1zM150 151h1v1h-1zM151 152h1v1h-1zM152 153h1v2h-1zM153 155h1v1h-1zM154 156h1v1h-1zM155 157h1v2h-1zM156 159h1v2h-1zM157 161h1v2h-1zM158 163h1v2h-1zM159 165h1v2h-1zM160 167h1v3h-1zM161 170h1v2h-1zM162 172h1v3h-1zM163 175h1v2h-1zM164 177h1v2h-1zM165 179h1v2h-1zM166 181h1v1h-1zM167 182h1v2h-1zM168 184h1v2h-1zM169 186h1v2h-1zM170 188h1v1h-1zM171 189h1v1h-1zM172 190h1v2h-1zM173 192h1v1h-1zM174 193h1v1h-1zM175 194h1v1h-1zM176 195h1v1h-1zM177 196h1v1h-1zM178 197h1v1h-1zM179 198h1v2h-1zM180 200h1v2h-1zM181 202h1v2h-1zM182 204h7v1h-7zM189 205h2v1h-2zM191 204h2v1h-2zM193 203h1v1h-1zM194 202h1v1h-1zM195 201h2v1h-2zM197 200h1v1h-1zM198 199h3v1h-3zM201 198h7v1h-7zM208 197h2v1h-2zM210 196h1v1h-1zM211 195h1v1h-1zM212 194h1v1h-1zM213 193h1v1h-1zM214 192h1v1h-1zM215 191h1v1h-1zM216 189h1v2h-1zM217 188h1v1h-1zM218 187h1v1h-1zM219 186h1v1h-1zM220 185h1v1h-1zM221 184h1v1h-1zM222 183h1v1h-1zM223 181h1v2h-1zM224 180h1v1h-1zM225 178h1v2h-1zM226 177h1v1h-1zM227 175h1v2h-1zM228 174h1v1h-1zM229 172h1v2h-1zM230 171h1v1h-1zM231 170h1v1h-1zM232 169h1v1h-1zM233 168h1v1h-1zM234 167h1v1h-1zM235 166h1v1h-1zM236 165h1v1h-1zM237 164h1v1h-1zM238 163h5v1h-5zM243 162h2v1h-2zM245 161h1v1h-1zM246 160h2v1h-2zM248 159h2v1h-2zM250 158h2v1h-2zM252 157h2v1h-2zM254 156h1v1h-1zM255 154h1v2h-1zM256 153h1v1h-1zM257 151h1v2h-1zM258 150h1v1h-1zM259 148h1v2h-1zM260 146h1v2h-1zM261 144h1v2h-1zM262 143h1v1h-1zM263 141h1v2h-1zM264 140h1v1h-1zM265 138h1v2h-1zM266 137h1v1h-1zM267 136h2v1h-2zM269 135h1v1h-1zM270 134h1v1h-1zM271 133h1v1h-1zM272 132h1v1h-1zM273 131h1v1h-1zM274 130h2v1h-2zM276 129h2v1h-2zM278 128h3v1h-3zM281 127h7v1h-7zM288 126h2v1h-2zM290 125h2v1h-2zM292 124h2v1h-2zM294 123h1v1h-1zM295 122h1v1h-1zM296 120h1v2h-1zM297 119h1v1h-1zM298 118h2v1h-2zM300 117h2v1h-2zM302 116h3v1h-3zM305 115h8v1h-8zM313 116h4v1h-4zM317 115h10v1h-10zM327 114h2v1h-2zM329 113h1v1h-1zM330 112h3v1h-3zM333 111h2v1h-2zM335 110h2v1h-2zM337 109h1v1h-1zM338 108h2v1h-2zM340 107h2v1h-2zM342 106h7v1h-7zM349 105h8v1h-8zM357 104h2v1h-2zM359 103h2v1h-2zM361 102h1v1h-1zM362 101h1v1h-1zM363 100h2v1h-2zM365 99h1v1h-1zM366 98h2v1h-2zM368 97h2v1h-2zM370 96h2v1h-2zM372 95h2v1h-2zM374 94h2v1h-2zM376 93h2v1h-2zM378 92h1v1h-1zM379 91h2v1h-2zM381 90h1v1h-1zM382 89h3v1h-3zM385 90h3v1h-3zM388 91h2v1h-2zM390 92h1v1h-1zM391 93h1v1h-1zM392 94h1v2h-1zM393 96h1v1h-1zM394 97h1v1h-1zM395 98h1v1h-1zM396 99h1v2h-1zM397 101h1v1h-1zM398 102h1v1h-1zM399 103h1v1h-1zM400 104h1v1h-1zM401 105h1v1h-1zM402 106h2v1h-2zM404 107h2v1h-2zM406 108h2v1h-2zM408 109h2v1h-2zM410 110h11v1h-11zM421 111h8v1h-8zM429 112h2v1h-2zM431 113h2v1h-2zM433 114h1v1h-1zM434 115h1v1h-1zM435 116h1v1h-1zM436 117h1v2h-1zM437 119h1v1h-1zM438 120h1v1h-1zM439 121h1v1h-1zM440 122h1v1h-1zM441 123h1v1h-1zM442 124h9v1h-9zM451 123h2v1h-2zM453 122h1v1h-1zM454 121h2v1h-2zM456 120h2v1h-2zM458 119h1v1h-1zM459 118h2v1h-2zM461 117h1v1h-1zM462 116h2v1h-2zM464 115h2v1h-2zM466 114h2v1h-2zM468 113h2v1h-2zM470 112h9v1h-9zM479 113h2v1h-2zM481 114h1v1h-1zM482 115h2v1h-2zM484 116h2v1h-2zM486 117h3v1h-3zM489 118h3v1h-3zM492 117h2v1h-2zM494 116h6v1h-6zM500 115h2v1h-2zM502 114h2v1h-2zM504 113h2v1h-2zM506 112h7v1h-7zM513 111h4v1h-4zM517 110h8v1h-8zM525 109h3v1h-3zM528 108h2v1h-2zM530 107h3v1h-3zM533 106h2v1h-2zM535 105h1v1h-1zM536 104h1v1h-1zM537 103h1v1h-1zM538 102h1v1h-1zM539 101h1v1h-1zM540 99h1v2h-1zM541 98h1v1h-1zM542 97h3v1h-3zM545 96h4v1h-4zM549 97h4v1h-4zM553 96h4v1h-4zM557 97h4v1h-4zM561 98h6v1h-6zM567 99h2v1h-2zM569 100h1v1h-1zM570 101h1v1h-1zM571 102h1v1h-1zM572 103h1v2h-1zM573 105h1v1h-1zM574 106h1v1h-1zM575 107h1v1h-1zM576 108h1v1h-1zM577 109h1v1h-1zM578 110h1v1h-1zM579 111h1v1h-1zM580 112h1v1h-1zM581 113h1v1h-1zM582 114h1v1h-1zM583 115h1v2h-1zM584 117h1v2h-1zM585 119h1v2h-1zM586 121h1v1h-1zM587 122h1v1h-1zM588 123h1v2h-1zM589 125h1v1h-1zM590 126h1v1h-1zM591 127h1v2h-1zM592 129h1v2h-1zM593 131h1v2h-1zM594 133h1v2h-1zM595 135h1v2h-1zM596 137h1v2h-1zM597 139h1v2h-1zM598 141h1v1h-1zM599 142h1v1h-1zM600 143h1v1h-1zM601 144h1v1h-1zM602 145h1v1h-1zM603 146h2v1h-2zM605 147h1v1h-1zM606 148h1v1h-1zM607 149h2v1h-2zM609 150h1v1h-1zM610 151h2v1h-2zM612 152h2v1h-2zM614 153h1v1h-1zM615 154h1v1h-1zM616 155h1v1h-1zM617 156h1v1h-1zM618 157h1v1h-1zM619 158h2v1h-2zM621 159h1v1h-1zM622 160h1v1h-1zM623 161h1v1h-1zM624 162h1v1h-1zM625 163h1v1h-1zM626 164h2v1h-2zM628 165h2v1h-2zM630 166h1v1h-1zM631 167h1v1h-1zM632 168h1v1h-1zM633 169h1v1h-1zM634 170h1v1h-1zM635 171h1v1h-1zM636 172h1v2h-1zM637 174h1v1h-1zM638 175h1v1h-1zM639 176h1v2h-1zM640 178h1v1h-1zM641 179h1v2h-1zM642 181h1v1h-1zM643 182h1v2h-1zM644 184h1v1h-1zM645 185h1v2h-1zM646 187h1v1h-1zM647 188h1v2h-1zM648 190h1v2h-1zM649 192h1v2h-1zM650 194h1v1h-1zM651 195h1v1h-1zM652 196h1v1h-1zM653 197h1v1h-1zM654 198h1v1h-1zM655 199h1v1h-1zM656 200h1v1h-1zM657 201h1v1h-1zM658 202h1v1h-1zM659 203h2v1h-2zM661 204h1v1h-1zM662 205h1v1h-1zM663 206h1v1h-1zM664 207h1v2h-1zM665 209h1v1h-1zM666 210h1v1h-1zM667 211h1v1h-1zM668 212h1v1h-1zM669 213h1v1h-1zM670 214h1v1h-1zM671 215h1v1h-1zM672 216h1v2h-1zM673 218h1v1h-1zM674 219h1v1h-1zM675 220h2v1h-2zM677 221h1v1h-1zM678 222h2v1h-2zM680 223h2v1h-2zM682 224h1v1h-1zM683 225h1v1h-1zM684 226h1v1h-1zM685 227h1v1h-1zM686 228h2v1h-2zM688 229h2v1h-2zM690 230h2v1h-2zM692 231h2v1h-2zM694 232h3v1h-3zM697 233h3v1h-3zM700 234h2v1h-2zM702 235h11v1h-11zM713 236h3v1h-3zM716 237h2v1h-2zM718 238h3v1h-3zM721 237h4v1h-4zM725 238h8v1h-8zM733 239h4v1h-4zM737 240h7v1h-7zM744 239h2v1h-2zM746 238h11v1h-11zM757 239h11v1h-11zM768 238h2v1h-2zM770 237h1v1h-1zM771 236h2v1h-2zM773 235h1v1h-1zM774 234h2v1h-2zM776 233h2v1h-2zM778 232h1v1h-1zM779 231h2v1h-2zM781 230h1v1h-1zM782 229h1v1h-1zM783 228h2v1h-2zM785 227h1v1h-1zM786 226h2v1h-2zM788 225h2v1h-2zM790 224h1v1h-1zM791 223h2v1h-2zM793 222h1v1h-1zM794 221h2v1h-2zM796 220h2v1h-2zM798 219h1v1h-1zM799 218h2v1h-2zM801 217h1v1h-1zM802 216h1v1h-1zM803 215h1v1h-1zM804 213h1v2h-1zM805 212h1v1h-1zM806 211h1v1h-1zM807 209h1v2h-1zM808 207h1v2h-1zM809 205h1v2h-1zM810 204h1v1h-1zM811 202h1v2h-1zM812 200h1v2h-1zM813 198h1v2h-1zM814 197h1v1h-1zM815 195h1v2h-1zM816 193h1v2h-1zM817 191h1v2h-1zM818 190h1v1h-1zM819 189h1v1h-1zM820 187h1v2h-1zM821 186h1v1h-1zM822 185h2v1h-2zM824 184h2v1h-2zM826 183h3v1h-3zM829 182h4v1h-4zM833 181h10v1h-10zM843 182h2v1h-2zM845 183h1v1h-1zM846 184h1v1h-1zM847 185h2v1h-2zM849 186h1v1h-1zM850 187h1v1h-1zM851 188h1v2h-1zM852 190h1v1h-1zM853 191h1v2h-1zM854 193h1v2h-1zM855 195h1v2h-1zM856 197h1v2h-1zM857 199h1v2h-1zM858 201h1v2h-1zM859 203h1v3h-1zM860 206h1v2h-1zM861 208h1v3h-1zM862 211h1v3h-1zM863 214h1v2h-1zM864 216h1v3h-1zM865 219h1v2h-1zM866 221h1v3h-1zM867 224h1v3h-1zM868 227h1v4h-1zM869 231h1v3h-1zM870 234h1v4h-1zM871 238h1v4h-1zM872 242h1v5h-1zM873 247h1v4h-1zM874 251h1v5h-1zM875 256h1v4h-1zM876 260h1v5h-1zM877 265h1v4h-1zM878 269h1v5h-1zM879 274h1v5h-1zM880 279h1v4h-1zM881 283h1v5h-1zM882 288h1v5h-1zM883 293h1v4h-1zM884 297h1v5h-1zM885 302h1v4h-1zM886 306h1v4h-1zM887 310h1v4h-1zM888 314h1v4h-1zM889 318h1v4h-1zM890 322h1v3h-1zM891 325h1v2h-1zM892 327h1v2h-1zM893 329h1v2h-1zM894 331h1v3h-1zM895 334h1v2h-1zM896 336h1v3h-1zM897 339h1v2h-1zM898 341h1v2h-1zM899 343h1v2h-1zM900 345h1v1h-1zM901 346h1v2h-1zM902 348h1v2h-1zM903 350h1v2h-1zM904 352h1v2h-1zM905 354h1v2h-1zM906 356h5v1h-5zM911 355h1v1h-1zM912 353h1v2h-1zM913 352h1v1h-1zM914 350h1v2h-1zM915 347h1v3h-1zM916 344h1v3h-1zM917 341h1v3h-1zM918 338h1v3h-1zM919 335h1v3h-1zM920 332h1v3h-1zM921 329h1v3h-1zM922 326h1v3h-1zM923 322h1v4h-1zM924 318h1v4h-1zM925 314h1v4h-1zM926 310h1v4h-1zM927 306h1v4h-1zM928 301h1v5h-1zM929 297h1v4h-1zM930 292h1v5h-1zM931 288h1v4h-1zM932 283h1v5h-1zM933 279h1v4h-1zM934 274h1v5h-1zM935 269h1v5h-1zM936 265h1v4h-1zM937 260h1v5h-1zM938 256h1v4h-1zM939 253h1v3h-1zM940 249h1v4h-1zM941 246h1v3h-1zM942 244h1v2h-1zM943 242h1v2h-1zM944 240h1v2h-1zM945 238h1v2h-1zM946 237h3v1h-3zM949 238h2v1h-2zM951 237h2v1h-2zM953 236h1v1h-1zM954 235h1v1h-1zM955 234h2v1h-2zM957 233h1v1h-1zM958 231h1v2h-1zM959 229h1v2h-1zM960 227h1v2h-1zM961 225h1v2h-1zM962 224h1v1h-1zM963 223h2v1h-2zM965 222h1v1h-1zM966 221h2v1h-2zM968 220h2v1h-2zM970 219h1v1h-1zM971 220h2v1h-2zM973 221h1v1h-1zM974 222h1v1h-1zM975 223h1v1h-1zM976 224h1v1h-1zM977 225h1v1h-1zM978 226h1v1h-1zM979 227h1v2h-1zM980 229h1v2h-1zM981 231h1v2h-1zM982 233h1v1h-1zM983 234h1v1h-1zM984 235h1v2h-1zM985 237h1v1h-1zM986 238h1v1h-1zM987 239h1v2h-1zM988 241h1v1h-1zM989 242h1v2h-1zM990 244h1v1h-1zM991 245h1v1h-1zM992 246h1v2h-1zM993 248h1v1h-1zM994 249h5v1h-5zM999 248h1v1h-1zM1000 247h1v1h-1zM1001 246h1v1h-1zM1002 245h1v1h-1zM1003 244h2v1h-2zM1005 243h1v1h-1zM1006 242h2v1h-2zM1008 241h2v1h-2zM1010 240h1v1h-1zM1011 239h2v1h-2zM1013 238h1v1h-1zM1014 237h3v1h-3zM1017 238h3v1h-3zM1020 239h2v1h-2zM1022 240h1v1h-1zM1023 241h1v1h-1zM1024 242h1v1h-1zM1025 243h1v1h-1zM1026 244h1v1h-1zM1027 245h2v1h-2zM1029 246h1v1h-1zM1030 247h2v1h-2zM1032 248h2v1h-2zM1034 249h3v1h-3zM1037 248h4v1h-4zM1041 247h2v1h-2zM1043 246h1v1h-1zM1044 245h1v1h-1zM1045 244h1v1h-1zM1046 243h1v1h-1zM1047 242h1v1h-1zM1048 241h1v1h-1zM1049 240h1v1h-1zM1050 239h1v1h-1zM1051 238h1v1h-1zM1052 237h1v1h-1zM1053 236h1v1h-1zM1054 235h1v1h-1zM1055 234h2v1h-2zM1057 233h1v1h-1zM1058 232h2v1h-2zM1060 231h2v1h-2zM1062 230h3v1h-3zM1065 231h2v1h-2zM1067 232h2v1h-2zM1069 233h1v1h-1zM1070 234h3v1h-3zM1073 235h3v1h-3zM1076 234h2v1h-2zM1078 233h1v1h-1zM1079 232h2v1h-2zM1081 231h1v1h-1zM1082 230h2v1h-2zM1084 229h2v1h-2zM1086 228h7v1h-7zM1093 229h3v1h-3zM1096 230h2v1h-2zM1098 231h2v1h-2zM1100 232h2v1h-2zM1102 233h2v1h-2zM1104 234h2v1h-2zM1106 235h3v1h-3zM1109 236h4v1h-4zM1113 237h3v1h-3zM1116 236h2v1h-2zM1118 235h1v1h-1zM1119 234h1v1h-1zM1120 233h1v1h-1zM1121 232h1v1h-1zM1122 231h1v1h-1zM1123 230h1v1h-1zM1124 229h1v1h-1zM1125 228h1v1h-1zM1126 227h11v1h-11zM1137 228h4v1h-4zM1141 229h4v1h-4zM1145 228h3v1h-3zM1148 229h2v1h-2zM1150 230h3v1h-3zM1153 231h3v1h-3zM1156 232h2v1h-2zM1158 233h1v1h-1zM1159 234h2v1h-2zM1161 235h1v1h-1zM1162 236h1v1h-1zM1163 237h1v1h-1zM1164 238h1v2h-1zM1165 240h1v1h-1zM1166 241h1v1h-1zM1167 242h1v1h-1zM1168 243h1v1h-1zM1169 244h1v1h-1zM1170 245h1v1h-1zM1171 246h1v1h-1zM1172 247h1v1h-1zM1173 248h1v1h-1zM1174 249h1v1h-1zM1175 250h2v1h-2zM1177 251h1v1h-1zM1178 252h1v1h-1zM1179 253h1v2h-1zM1180 255h1v2h-1zM1181 257h1v2h-1zM1182 259h3v1h-3zM1185 260h2v1h-2zM1187 261h2v1h-2zM1189 262h1v1h-1zM1190 263h1v1h-1zM1191 264h1v2h-1zM1192 266h1v1h-1zM1193 267h1v2h-1zM1194 269h1v2h-1zM1195 271h1v2h-1zM1196 273h1v3h-1zM1197 276h1v2h-1zM1198 278h1v3h-1zM1199 281h1v2h-1zM1200 283h1v3h-1zM1201 286h1v2h-1zM1202 288h1v3h-1zM1203 291h1v3h-1zM1204 294h1v2h-1zM1205 296h1v3h-1zM1206 299h1v3h-1zM1207 302h1v2h-1zM1208 304h1v2h-1zM1209 306h1v2h-1zM1210 308h1v1h-1zM1211 309h2v1h-2zM1213 310h1v1h-1zM1214 311h1v1h-1zM1215 312h1v1h-1zM1216 313h1v2h-1zM1217 315h1v1h-1zM1218 316h1v1h-1zM1219 317h1v1h-1zM1220 318h1v2h-1zM1221 320h1v1h-1zM1222 321h1v1h-1zM1223 322h1v1h-1zM1224 323h1v1h-1zM1225 324h1v1h-1zM1226 325h1v1h-1zM1227 326h1v1h-1zM1228 327h1v2h-1zM1229 329h1v1h-1zM1230 330h1v1h-1zM1231 331h2v1h-2zM1233 332h1v1h-1zM1234 333h2v1h-2zM1236 334h2v1h-2zM1238 335h1v1h-1zM1239 336h1v2h-1zM1240 338h1v1h-1zM1241 339h1v2h-1zM1242 341h1v1h-1zM1243 342h1v2h-1zM1244 344h1v2h-1zM1245 346h1v2h-1zM1246 348h1v1h-1zM1247 349h1v1h-1zM1248 350h1v1h-1zM1249 351h1v1h-1zM1250 352h7v1h-7zM1257 351h2v1h-2zM1259 350h1v1h-1zM1260 349h1v1h-1zM1261 348h1v1h-1zM1262 347h3v1h-3zM1265 348h4v1h-4zM1269 349h2v1h-2z"/>
<path fill="#ffa500" d="M6 205h1v1h-1zM7 206h2v1h-2zM9 207h1v1h-1zM10 208h1v1h-1zM11 207h1v1h-1zM12 206h1v1h-1zM13 205h1v1h-1zM14 203h1v2h-1zM15 199h1v4h-1zM16 195h1v4h-1zM17 191h1v4h-1zM18 188h1v3h-1zM19 185h1v3h-1zM20 183h1v2h-1zM21 180h1v3h-1zM22 177h1v3h-1zM23 174h1v3h-1zM24 172h1v2h-1zM25 169h1v3h-1zM26 166h1v3h-1zM27 164h1v2h-1zM28 161h1v3h-1zM29 159h1v2h-1zM30 155h1v4h-1zM31 150h1v5h-1zM32 146h1v4h-1zM33 141h1v5h-1zM34 138h1v3h-1zM35 136h1v2h-1zM36 135h1v1h-1zM37 133h1v2h-1zM38 131h1v2h-1zM39 129h1v2h-1zM40 127h1v2h-1zM41 125h1v2h-1zM42 123h1v2h-1zM43 121h1v2h-1zM44 120h1v1h-1zM45 118h1v2h-1zM46 117h1v1h-1zM47 116h1v1h-1zM48 114h1v2h-1zM49 113h1v1h-1zM50 112h1v1h-1zM51 113h1v1h-1zM52 114h1v2h-1zM53 116h1v1h-1zM54 117h1v2h-1zM55 119h1v2h-1zM56 121h1v2h-1zM57 123h1v2h-1zM58 125h1v2h-1zM59 127h1v2h-1zM60 129h1v3h-1zM61 132h1v2h-1zM62 134h1v3h-1zM63 137h1v2h-1zM64 139h1v2h-1zM65 141h1v2h-1zM66 143h1v2h-1zM67 144h5v1h-5zM72 145h2v1h-2zM74 146h2v1h-2zM76 145h2v1h-2zM78 144h2v1h-2zM80 145h2v1h-2zM82 146h1v1h-1zM83 147h2v1h-2zM85 148h1v1h-1zM86 149h1v1h-1zM87 150h1v2h-1zM88 152h1v2h-1zM89 154h1v2h-1zM90 156h2v1h-2zM92 157h2v1h-2zM94 158h3v1h-3zM97 159h1v1h-1zM98 158h1v2h-1zM99 156h1v2h-1zM100 154h1v2h-1zM101 152h1v2h-1zM102 149h1v3h-1zM103 146h1v3h-1zM104 143h1v3h-1zM105 140h1v3h-1zM106 137h1v3h-1zM107 134h1v3h-1zM108 130h1v4h-1zM109 127h1v3h-1zM110 125h1v2h-1zM111 123h1v2h-1zM112 121h1v2h-1zM113 119h1v2h-1zM114 118h1v1h-1zM115 116h1v2h-1zM116 115h1v1h-1zM117 113h1v2h-1zM118 112h8v1h-8zM126 112h1v2h-1zM127 114h1v3h-1zM128 117h1v4h-1zM129 121h1v3h-1zM130 124h1v3h-1zM131 127h1v2h-1zM132 129h1v3h-1zM133 132h1v2h-1zM134 134h1v4h-1zM135 138h1v5h-1zM136 143h1v6h-1zM137 149h1v5h-1zM138 154h1v4h-1zM139 158h1v3h-1zM140 161h1v4h-1zM141 165h1v3h-1zM142 168h1v5h-1zM143 173h1v6h-1zM144 179h1v6h-1zM145 185h1v6h-1zM146 191h1v5h-1zM147 196h1v2h-1zM148 198h1v2h-1zM149 200h1v2h-1zM150 202h1v2h-1zM151 204h1v3h-1zM152 207h1v3h-1zM153 210h1v3h-1zM154 213h1v2h-1zM155 214h3v1h-3zM158 214h1v2h-1zM159 216h1v2h-1zM160 218h1v3h-1zM161 221h1v2h-1zM162 223h1v2h-1zM163 223h1v1h-1zM164 222h1v1h-1zM165 221h1v1h-1zM166 220h2v1h-2zM168 221h2v1h-2zM170 222h1v1h-1zM171 220h1v2h-1zM172 219h1v1h-1zM173 217h1v2h-1zM174 215h1v2h-1zM175 213h1v2h-1zM176 211h1v2h-1zM177 209h1v2h-1zM178 206h1v3h-1zM179 204h1v2h-1zM180 202h1v2h-1zM181 200h1v2h-1zM182 198h1v2h-1zM183 196h1v2h-1zM184 194h1v2h-1zM185 192h1v2h-1zM186 191h1v1h-1zM187 189h1v2h-1zM188 187h1v2h-1zM189 185h1v2h-1zM190 184h1v1h-1zM191 183h1v1h-1zM192 181h1v2h-1zM193 180h1v1h-1zM194 179h1v1h-1zM195 178h1v1h-1zM196 177h1v1h-1zM197 176h1v1h-1zM198 175h1v1h-1zM199 176h1v1h-1zM200 177h1v1h-1zM201 178h1v1h-1zM202 179h1v1h-1zM203 180h1v2h-1zM204 182h1v2h-1zM205 184h1v2h-1zM206 186h3v1h-3zM209 187h6v1h-6zM215 188h2v1h-2zM217 189h1v1h-1zM218 189h1v2h-1zM219 186h1v3h-1zM220 183h1v3h-1zM221 180h1v3h-1zM222 176h1v4h-1zM223 172h1v4h-1zM224 168h1v4h-1zM225 164h1v4h-1zM226 160h1v4h-1zM227 156h1v4h-1zM228 153h1v3h-1zM229 149h1v4h-1zM230 146h1v3h-1zM231 144h1v2h-1zM232 141h1v3h-1zM233 139h1v2h-1zM234 137h1v2h-1zM235 135h1v2h-1zM236 133h1v2h-1zM237 131h1v2h-1zM238 130h1v1h-1zM239 131h1v1h-1zM240 132h1v1h-1zM241 133h1v1h-1zM242 134h1v1h-1zM243 135h2v1h-2zM245 136h1v1h-1zM246 137h1v1h-1zM247 138h1v1h-1zM248 139h1v2h-1zM249 141h1v1h-1zM250 142h1v1h-1zM251 143h2v1h-2zM253 144h1v1h-1zM254 145h1v1h-1zM255 144h1v1h-1zM256 142h1v2h-1zM257 141h1v1h-1zM258 139h1v2h-1zM259 137h1v2h-1zM260 134h1v3h-1zM261 132h1v2h-1zM262 130h1v2h-1zM263 128h1v2h-1zM264 126h1v2h-1zM265 124h1v2h-1zM266 123h1v1h-1zM267 122h2v1h-2zM269 121h1v1h-1zM270 120h2v1h-2zM272 119h2v1h-2zM274 118h7v1h-7zM281 117h4v1h-4zM285 118h2v1h-2zM287 116h1v2h-1zM288 115h1v1h-1zM289 113h1v2h-1zM290 112h1v1h-1zM291 111h1v1h-1zM292 110h1v1h-1zM293 109h1v1h-1zM294 108h2v1h-2zM296 107h2v1h-2zM298 106h5v1h-5zM303 107h1v1h-1zM304 108h1v1h-1zM305 109h1v1h-1zM306 110h1v2h-1zM307 112h1v2h-1zM308 114h1v2h-1zM309 116h1v2h-1zM310 118h1v2h-1zM311 119h1v1h-1zM312 120h2v1h-2zM314 121h7v1h-7zM321 120h4v1h-4zM325 119h1v1h-1zM326 118h1v2h-1zM327 115h1v3h-1zM328 112h1v3h-1zM329 109h1v3h-1zM330 107h1v2h-1zM331 106h2v1h-2zM333 105h1v1h-1zM334 104h1v1h-1zM335 103h1v1h-1zM336 101h1v2h-1zM337 100h1v1h-1zM338 99h1v1h-1zM339 97h1v2h-1zM340 96h1v1h-1zM341 94h1v2h-1zM342 93h1v1h-1zM343 91h1v2h-1zM344 90h1v1h-1zM345 88h1v2h-1zM346 87h1v1h-1zM347 88h1v1h-1zM348 89h1v1h-1zM349 90h1v1h-1zM350 91h2v1h-2zM352 90h2v1h-2zM354 89h1v1h-1zM355 90h1v1h-1zM356 91h1v1h-1zM357 92h1v1h-1zM358 93h1v1h-1zM359 94h2v1h-2zM361 95h1v1h-1zM362 96h6v1h-6zM368 95h2v1h-2zM370 94h1v1h-1zM371 93h2v1h-2zM373 92h1v1h-1zM374 91h1v1h-1zM375 90h2v1h-2zM377 89h1v1h-1zM378 88h1v1h-1zM379 87h1v1h-1zM380 86h1v1h-1zM381 85h1v1h-1zM382 84h4v1h-4zM386 84h1v2h-1zM387 86h1v3h-1zM388 89h1v2h-1zM389 91h1v3h-1zM390 94h1v3h-1zM391 97h1v3h-1zM392 100h1v4h-1zM393 104h1v3h-1zM394 107h1v3h-1zM395 110h1v3h-1zM396 113h1v4h-1zM397 117h1v3h-1zM398 120h1v3h-1zM399 123h1v3h-1zM400 126h1v4h-1zM401 130h1v3h-1zM402 133h1v2h-1zM403 135h1v2h-1zM404 137h1v2h-1zM405 139h1v2h-1zM406 141h1v1h-1zM407 140h1v1h-1zM408 139h1v1h-1zM409 138h1v1h-1zM410 136h1v2h-1zM411 134h1v2h-1zM412 132h1v2h-1zM413 130h1v2h-1zM414 128h1v2h-1zM415 126h1v2h-1zM416 123h1v3h-1zM417 121h1v2h-1zM418 118h1v3h-1zM419 116h1v2h-1zM420 114h1v2h-1zM421 112h1v2h-1zM422 109h1v3h-1zM423 107h1v2h-1zM424 105h1v2h-1zM425 103h1v2h-1zM426 102h1v1h-1zM427 101h2v1h-2zM429 100h1v1h-1zM430 99h2v1h-2zM432 100h2v1h-2zM434 101h1v2h-1zM435 103h1v2h-1zM436 105h1v2h-1zM437 107h1v2h-1zM438 109h1v3h-1zM439 112h1v2h-1zM440 114h1v3h-1zM441 117h1v2h-1zM442 119h1v3h-1zM443 122h1v3h-1zM444 125h1v2h-1zM445 127h1v3h-1zM446 130h1v3h-1zM447 133h1v2h-1zM448 135h1v2h-1zM449 137h1v2h-1zM450 139h3v1h-3zM453 138h2v1h-2zM455 136h1v2h-1zM456 135h1v1h-1zM457 133h1v2h-1zM458 131h1v2h-1zM459 128h1v3h-1zM460 126h1v2h-1zM461 123h1v3h-1zM462 120h1v3h-1zM463 117h1v3h-1zM464 114h1v3h-1zM465 111h1v3h-1zM466 108h1v3h-1zM467 105h1v3h-1zM468 102h1v3h-1zM469 99h1v3h-1zM470 97h1v2h-1zM471 96h2v1h-2zM473 95h1v1h-1zM474 94h2v1h-2zM476 93h2v1h-2zM478 92h1v1h-1zM479 93h1v2h-1zM480 95h1v1h-1zM481 96h1v2h-1zM482 98h1v2h-1zM483 100h1v2h-1zM484 102h1v3h-1zM485 105h1v2h-1zM486 107h1v3h-1zM487 110h1v2h-1zM488 112h1v2h-1zM489 114h1v2h-1zM490 116h1v2h-1zM491 118h1v1h-1zM492 119h1v2h-1zM493 121h1v1h-1zM494 122h1v1h-1zM495 123h1v2h-1zM496 125h1v2h-1zM497 127h1v2h-1zM498 129h5v1h-5zM503 128h1v1h-1zM504 126h1v2h-1zM505 125h1v1h-1zM506 124h3v1h-3zM509 123h2v1h-2zM511 121h1v2h-1zM512 119h1v2h-1zM513 117h1v2h-1zM514 115h1v2h-1zM515 112h1v3h-1zM516 110h1v2h-1zM517 107h1v3h-1zM518 104h1v3h-1zM519 102h1v2h-1zM520 100h1v2h-1zM521 98h1v2h-1zM522 97h1v1h-1zM523 95h1v2h-1zM524 93h1v2h-1zM525 91h1v2h-1zM526 89h1v2h-1zM527 87h1v2h-1zM528 85h1v2h-1zM529 83h1v2h-1zM530 81h1v2h-1zM531 80h2v1h-2zM533 79h1v1h-1zM534 78h2v1h-2zM536 77h2v1h-2zM538 76h1v1h-1zM539 75h1v1h-1zM540 74h1v1h-1zM541 73h1v1h-1zM542 72h1v1h-1zM543 73h1v2h-1zM544 75h1v2h-1zM545 77h1v2h-1zM546 79h1v2h-1zM547 81h1v4h-1zM548 85h1v3h-1zM549 88h1v4h-1zM550 92h1v3h-1zM551 95h1v2h-1zM552 97h1v3h-1zM553 100h1v2h-1zM554 102h1v3h-1zM555 105h1v3h-1zM556 108h1v4h-1zM557 112h1v3h-1zM558 115h1v3h-1zM559 118h1v2h-1zM560 120h1v3h-1zM561 123h1v2h-1zM562 125h1v2h-1zM563 127h2v1h-2zM565 128h1v1h-1zM566 129h3v1h-3zM569 128h3v1h-3zM572 129h2v1h-2zM574 130h2v1h-2zM576 131h2v1h-2zM578 132h1v1h-1zM579 133h1v1h-1zM580 134h1v2h-1zM581 136h1v1h-1zM582 137h1v2h-1zM583 139h1v2h-1zM584 141h1v2h-1zM585 143h1v2h-1zM586 145h1v1h-1zM587 146h1v1h-1zM588 147h1v1h-1zM589 148h1v1h-1zM590 149h2v1h-2zM592 150h2v1h-2zM594 151h1v2h-1zM595 153h1v2h-1zM596 155h1v2h-1zM597 157h1v2h-1zM598 159h1v1h-1zM599 160h1v2h-1zM600 162h1v1h-1zM601 163h1v2h-1zM602 165h1v1h-1zM603 166h1v1h-1zM604 167h1v2h-1zM605 169h1v1h-1zM606 170h1v1h-1zM607 171h2v1h-2zM609 172h1v1h-1zM610 173h3v1h-3zM613 174h2v1h-2zM615 173h2v1h-2zM617 172h1v1h-1zM618 171h3v1h-3zM621 172h4v1h-4zM625 171h5v1h-5zM630 171h1v2h-1zM631 173h1v2h-1zM632 175h1v2h-1zM633 177h1v2h-1zM634 179h1v2h-1zM635 181h1v2h-1zM636 183h1v3h-1zM637 186h1v2h-1zM638 188h1v3h-1zM639 191h1v3h-1zM640 194h1v4h-1zM641 198h1v3h-1zM642 201h1v3h-1zM643 204h1v3h-1zM644 207h1v3h-1zM645 210h1v3h-1zM646 213h1v3h-1zM647 216h1v4h-1zM648 220h1v4h-1zM649 224h1v4h-1zM650 228h1v3h-1zM651 231h1v2h-1zM652 233h1v2h-1zM653 235h1v2h-1zM654 237h1v1h-1zM655 238h2v1h-2zM657 239h1v1h-1zM658 240h1v1h-1zM659 239h1v1h-1zM660 238h1v1h-1zM661 237h1v1h-1zM662 236h5v1h-5zM667 235h1v1h-1zM668 233h1v2h-1zM669 232h1v1h-1zM670 231h3v1h-3zM673 230h2v1h-2zM675 229h2v1h-2zM677 228h1v1h-1zM678 227h3v1h-3zM681 226h2v1h-2zM683 225h1v1h-1zM684 224h1v1h-1zM685 223h1v1h-1zM686 222h3v1h-3zM689 223h3v1h-3zM692 224h2v1h-2zM694 225h1v2h-1zM695 227h1v2h-1zM696 229h1v2h-1zM697 231h1v2h-1zM698 233h1v3h-1zM699 236h1v2h-1zM700 238h1v3h-1zM701 241h1v2h-1zM702 243h1v2h-1zM703 245h1v1h-1zM704 246h1v2h-1zM705 248h1v1h-1zM706 249h1v1h-1zM707 250h1v1h-1zM708 251h1v1h-1zM709 252h1v1h-1zM710 253h3v1h-3zM713 252h2v1h-2zM715 251h2v1h-2zM717 250h1v1h-1zM718 249h1v1h-1zM719 247h1v2h-1zM720 245h1v2h-1zM721 243h1v2h-1zM722 242h2v1h-2zM724 241h2v1h-2zM726 240h1v1h-1zM727 239h2v1h-2zM729 238h1v1h-1zM730 237h3v1h-3zM733 236h3v1h-3zM736 235h2v1h-2zM738 234h1v1h-1zM739 233h1v1h-1zM740 232h1v1h-1zM741 231h1v1h-1zM742 230h1v1h-1zM743 228h1v2h-1zM744 226h1v2h-1zM745 224h1v2h-1zM746 223h1v1h-1zM747 224h2v1h-2zM749 225h1v1h-1zM750 226h1v1h-1zM751 227h1v2h-1zM752 229h1v2h-1zM753 231h1v2h-1zM754 233h1v1h-1zM755 234h1v2h-1zM756 236h1v2h-1zM757 238h1v2h-1zM758 240h1v2h-1zM759 242h1v2h-1zM760 244h1v2h-1zM761 246h1v2h-1zM762 248h1v2h-1zM763 250h1v1h-1zM764 251h1v2h-1zM765 253h1v1h-1zM766 254h1v1h-1zM767 253h1v1h-1zM768 251h1v2h-1zM769 250h1v1h-1zM770 248h1v2h-1zM771 245h1v3h-1zM772 242h1v3h-1zM773 239h1v3h-1zM774 236h1v3h-1zM775 232h1v4h-1zM776 229h1v3h-1zM777 225h1v4h-1zM778 222h1v3h-1zM779 219h1v3h-1zM780 215h1v4h-1zM781 212h1v3h-1zM782 209h1v3h-1zM783 207h1v2h-1zM784 205h1v2h-1zM785 203h1v2h-1zM786 202h1v1h-1zM787 201h1v1h-1zM788 199h1v2h-1zM789 198h1v1h-1zM790 197h3v1h-3zM793 196h2v1h-2zM795 195h2v1h-2zM797 194h1v1h-1zM798 193h1v1h-1zM799 192h1v1h-1zM800 190h1v2h-1zM801 189h1v1h-1zM802 188h1v1h-1zM803 187h1v1h-1zM804 185h1v2h-1zM805 184h1v1h-1zM806 183h1v1h-1zM807 182h1v1h-1zM808 180h1v2h-1zM809 179h1v1h-1zM810 178h1v1h-1zM811 177h1v1h-1zM812 175h1v2h-1zM813 174h1v1h-1zM814 173h1v1h-1zM815 171h1v2h-1zM816 170h1v1h-1zM817 168h1v2h-1zM818 167h3v1h-3zM821 166h2v1h-2zM823 167h1v1h-1zM824 168h1v1h-1zM825 169h1v1h-1zM826 170h1v1h-1zM827 171h1v1h-1zM828 172h1v2h-1zM829 174h1v1h-1zM830 175h1v1h-1zM831 176h1v1h-1zM832 177h1v1h-1zM833 178h1v1h-1zM834 179h1v1h-1zM835 180h1v2h-1zM836 182h1v2h-1zM837 184h1v2h-1zM838 186h1v1h-1zM839 187h1v2h-1zM840 189h1v1h-1zM841 190h1v2h-1zM842 192h1v2h-1zM843 194h1v2h-1zM844 196h1v2h-1zM845 198h1v2h-1zM846 200h1v3h-1zM847 203h1v3h-1zM848 206h1v2h-1zM849 208h1v3h-1zM850 211h1v3h-1zM851 214h1v3h-1zM852 217h1v4h-1zM853 221h1v3h-1zM854 224h1v4h-1zM855 228h1v5h-1zM856 233h1v4h-1zM857 237h1v5h-1zM858 242h1v6h-1zM859 248h1v6h-1zM860 254h1v6h-1zM861 260h1v6h-1zM862 266h1v5h-1zM863 271h1v4h-1zM864 275h1v4h-1zM865 279h1v4h-1zM866 283h1v5h-1zM867 288h1v5h-1zM868 293h1v5h-1zM869 298h1v5h-1zM870 303h1v6h-1zM871 309h1v8h-1zM872 317h1v8h-1zM873 325h1v8h-1zM874 333h1v7h-1zM875 340h1v6h-1zM876 346h1v6h-1zM877 352h1v6h-1zM878 358h1v7h-1zM879 365h1v7h-1zM880 372h1v8h-1zM881 380h1v7h-1zM882 387h1v7h-1zM883 394h1v6h-1zM884 400h1v6h-1zM885 406h1v6h-1zM886 412h1v4h-1zM887 416h1v4h-1zM888 420h1v3h-1zM889 423h1v4h-1zM890 426h1v3h-1zM891 421h1v5h-1zM892 417h1v4h-1zM893 412h1v5h-1zM894 407h1v5h-1zM895 402h1v5h-1zM896 398h1v4h-1zM897 393h1v5h-1zM898 387h1v6h-1zM899 380h1v7h-1zM900 373h1v7h-1zM901 366h1v7h-1zM902 360h1v6h-1zM903 356h1v4h-1zM904 352h1v4h-1zM905 348h1v4h-1zM906 343h1v5h-1zM907 336h1v7h-1zM908 328h1v8h-1zM909 321h1v7h-1zM910 315h1v6h-1zM911 310h1v5h-1zM912 304h1v6h-1zM913 299h1v5h-1zM914 292h1v7h-1zM915 284h1v8h-1zM916 275h1v9h-1zM917 267h1v8h-1zM918 258h1v9h-1zM919 249h1v9h-1zM920 241h1v8h-1zM921 232h1v9h-1zM922 222h1v10h-1zM923 210h1v12h-1zM924 198h1v12h-1zM925 186h1v12h-1zM926 178h1v8h-1zM927 173h1v5h-1zM928 168h1v5h-1zM929 163h1v5h-1zM930 159h1v4h-1zM931 157h1v2h-1zM932 155h1v2h-1zM933 153h1v2h-1zM934 151h1v2h-1zM935 152h1v2h-1zM936 154h1v2h-1zM937 156h1v2h-1zM938 158h1v4h-1zM939 162h1v6h-1zM940 168h1v6h-1zM941 174h1v6h-1zM942 180h1v8h-1zM943 188h1v9h-1zM944 197h1v10h-1zM945 207h1v9h-1zM946 216h1v9h-1zM947 225h1v8h-1zM948 233h1v8h-1zM949 241h1v8h-1zM950 249h1v7h-1zM951 256h1v6h-1zM952 262h1v6h-1zM953 268h1v6h-1zM954 274h1v5h-1zM955 279h1v4h-1zM956 283h1v4h-1zM957 287h1v4h-1zM958 291h1v3h-1zM959 292h1v1h-1zM960 291h1v1h-1zM961 290h1v1h-1zM962 287h1v3h-1zM963 282h1v5h-1zM964 278h1v4h-1zM965 273h1v5h-1zM966 267h1v6h-1zM967 260h1v7h-1zM968 254h1v6h-1zM969 247h1v7h-1zM970 241h1v6h-1zM971 237h1v4h-1zM972 233h1v4h-1zM973 229h1v4h-1zM974 224h1v5h-1zM975 220h1v4h-1zM976 216h1v4h-1zM977 212h1v4h-1zM978 210h1v2h-1zM979 209h2v1h-2zM981 208h1v1h-1zM982 207h2v1h-2zM984 208h2v1h-2zM986 209h1v2h-1zM987 211h1v3h-1zM988 214h1v4h-1zM989 218h1v3h-1zM990 221h1v3h-1zM991 224h1v3h-1zM992 227h1v3h-1zM993 230h1v3h-1zM994 233h1v3h-1zM995 236h1v3h-1zM996 239h1v4h-1zM997 243h1v3h-1zM998 246h1v2h-1zM999 248h1v1h-1zM1000 249h1v1h-1zM1001 250h1v1h-1zM1002 251h1v2h-1zM1003 253h1v3h-1zM1004 256h1v3h-1zM1005 259h1v3h-1zM1006 262h1v2h-1zM1007 263h2v1h-2zM1009 264h2v1h-2zM1011 263h1v1h-1zM1012 261h1v2h-1zM1013 260h1v1h-1zM1014 259h7v1h-7zM1021 258h2v1h-2zM1023 256h1v2h-1zM1024 254h1v2h-1zM1025 252h1v2h-1zM1026 251h1v1h-1zM1027 250h1v1h-1zM1028 248h1v2h-1zM1029 247h1v1h-1zM1030 246h2v1h-2zM1032 245h2v1h-2zM1034 243h1v2h-1zM1035 241h1v2h-1zM1036 239h1v2h-1zM1037 237h1v2h-1zM1038 235h1v2h-1zM1039 233h1v2h-1zM1040 231h1v2h-1zM1041 229h1v2h-1zM1042 227h1v2h-1zM1043 225h1v2h-1zM1044 223h1v2h-1zM1045 221h1v2h-1zM1046 218h1v3h-1zM1047 216h1v2h-1zM1048 214h1v2h-1zM1049 212h1v2h-1zM1050 211h1v1h-1zM1051 210h1v1h-1zM1052 209h1v1h-1zM1053 208h1v1h-1zM1054 207h2v1h-2zM1056 206h2v1h-2zM1058 205h1v2h-1zM1059 207h1v2h-1zM1060 209h1v3h-1zM1061 212h1v2h-1zM1062 214h1v4h-1zM1063 218h1v4h-1zM1064 222h1v4h-1zM1065 226h1v4h-1zM1066 230h1v4h-1zM1067 234h1v4h-1zM1068 238h1v4h-1zM1069 242h1v4h-1zM1070 246h1v3h-1zM1071 249h1v3h-1zM1072 252h1v2h-1zM1073 254h1v3h-1zM1074 257h1v2h-1zM1075 259h2v1h-2zM1077 260h1v1h-1zM1078 260h1v2h-1zM1079 258h1v2h-1zM1080 256h1v2h-1zM1081 254h1v2h-1zM1082 250h1v4h-1zM1083 246h1v4h-1zM1084 242h1v4h-1zM1085 238h1v4h-1zM1086 235h1v3h-1zM1087 233h1v2h-1zM1088 231h1v2h-1zM1089 229h1v2h-1zM1090 227h1v2h-1zM1091 225h1v2h-1zM1092 223h1v2h-1zM1093 221h1v2h-1zM1094 220h5v1h-5zM1099 221h1v2h-1zM1100 223h1v2h-1zM1101 225h1v2h-1zM1102 227h1v1h-1zM1103 228h1v1h-1zM1104 229h1v2h-1zM1105 231h1v1h-1zM1106 232h1v1h-1zM1107 231h2v1h-2zM1109 230h1v1h-1zM1110 229h2v1h-2zM1112 228h2v1h-2zM1114 227h6v1h-6zM1120 226h2v1h-2zM1122 225h1v1h-1zM1123 224h2v1h-2zM1125 223h1v1h-1zM1126 222h1v2h-1zM1127 224h1v2h-1zM1128 226h1v2h-1zM1129 228h1v2h-1zM1130 230h1v2h-1zM1131 231h1v1h-1zM1132 232h2v1h-2zM1134 233h3v1h-3zM1137 232h3v1h-3zM1140 231h2v1h-2zM1142 230h2v1h-2zM1144 231h2v1h-2zM1146 232h2v1h-2zM1148 231h2v1h-2zM1150 230h2v1h-2zM1152 231h2v1h-2zM1154 232h1v2h-1zM1155 234h1v2h-1zM1156 236h1v2h-1zM1157 238h1v2h-1zM1158 240h1v3h-1zM1159 243h1v3h-1zM1160 246h1v3h-1zM1161 249h1v3h-1zM1162 252h1v3h-1zM1163 255h1v2h-1zM1164 257h1v3h-1zM1165 260h1v2h-1zM1166 262h1v2h-1zM1167 264h1v2h-1zM1168 266h1v1h-1zM1169 267h1v2h-1zM1170 269h1v2h-1zM1171 271h1v2h-1zM1172 273h1v2h-1zM1173 275h1v2h-1zM1174 277h1v1h-1zM1175 278h2v1h-2zM1177 279h1v1h-1zM1178 280h1v1h-1zM1179 281h1v1h-1zM1180 282h1v2h-1zM1181 284h1v1h-1zM1182 285h7v1h-7zM1189 284h2v1h-2zM1191 285h1v2h-1zM1192 287h1v1h-1zM1193 288h1v2h-1zM1194 290h1v2h-1zM1195 292h1v4h-1zM1196 296h1v3h-1zM1197 299h1v4h-1zM1198 303h1v3h-1zM1199 306h1v3h-1zM1200 309h1v4h-1zM1201 313h1v3h-1zM1202 316h1v5h-1zM1203 321h1v7h-1zM1204 328h1v6h-1zM1205 334h1v7h-1zM1206 341h1v5h-1zM1207 346h1v3h-1zM1208 349h1v3h-1zM1209 352h1v3h-1zM1210 355h1v2h-1zM1211 357h2v1h-2zM1213 358h1v1h-1zM1214 359h2v1h-2zM1216 358h2v1h-2zM1218 357h1v1h-1zM1219 356h1v1h-1zM1220 354h1v2h-1zM1221 353h1v1h-1zM1222 351h1v2h-1zM1223 347h1v4h-1zM1224 343h1v4h-1zM1225 339h1v4h-1zM1226 337h1v2h-1zM1227 337h1v1h-1zM1228 338h2v1h-2zM1230 339h2v1h-2zM1232 340h2v1h-2zM1234 341h3v1h-3zM1237 340h3v1h-3zM1240 341h2v1h-2zM1242 342h1v2h-1zM1243 344h1v2h-1zM1244 346h1v2h-1zM1245 348h1v2h-1zM1246 350h1v1h-1zM1247 351h2v1h-2zM1249 352h1v1h-1zM1250 353h1v1h-1zM1251 354h1v1h-1zM1252 355h1v1h-1zM1253 356h1v1h-1zM1254 357h1v1h-1zM1255 358h1v1h-1zM1256 359h1v1h-1zM1257 360h1v1h-1zM1258 361h5v1h-5zM1263 359h1v2h-1zM1264 357h1v2h-1zM1265 355h1v2h-1zM1266 354h1v1h-1zM1267 353h1v1h-1zM1268 351h1v2h-1zM1269 350h1v1h-1zM1270 349h1v1h-1z"/>
<path d="M1273 28 H1284 L1278.5 33.5 Z" fill="#c0c0c0" shape-rendering="geometricPrecision"/>
<path fill="none" stroke="#000" stroke-width="1" d="M5.5 27.5H1598.5V533.5H5.5Z"/>
<path fill="none" stroke="#000" stroke-width="1" d="M5.5 535.5H1598.5V627.5H5.5Z"/>
<path fill="none" stroke="#000" stroke-width="1" d="M5.5 629.5H1598.5V721.5H5.5Z"/>
<rect x="6" y="176" width="1594" height="2" fill="#ff0000"/>
<rect x="1592" y="174" width="6" height="6" fill="#ff0000"/>
<rect x="1594" y="176" width="2" height="2" fill="#fff"/>
<rect x="5" y="174" width="6" height="6" fill="#ff0000"/>
<rect x="7" y="176" width="2" height="2" fill="#fff"/>
<rect x="6" y="243" width="1594" height="2" fill="#ff0000"/>
<rect x="6" y="301" width="1594" height="2" fill="#00ff00"/>
<rect x="1592" y="299" width="6" height="6" fill="#00ff00"/>
<rect x="1594" y="301" width="2" height="2" fill="#fff"/>
<rect x="5" y="299" width="6" height="6" fill="#00ff00"/>
<rect x="7" y="301" width="2" height="2" fill="#fff"/>
<rect x="6" y="376" width="1594" height="2" fill="#0000ff"/>
<rect x="1592" y="374" width="6" height="6" fill="#0000ff"/>
<rect x="1594" y="376" width="2" height="2" fill="#fff"/>
<rect x="5" y="374" width="6" height="6" fill="#0000ff"/>
<rect x="7" y="376" width="2" height="2" fill="#fff"/>
<rect x="6" y="454" width="1594" height="2" fill="#0000ff"/>
<rect x="1592" y="452" width="6" height="6" fill="#0000ff"/>
<rect x="1594" y="454" width="2" height="2" fill="#fff"/>
<rect x="5" y="452" width="6" height="6" fill="#0000ff"/>
<rect x="7" y="454" width="2" height="2" fill="#fff"/>
<rect x="1599" y="35" width="2" height="1" fill="#000"/>
<text x="1604.3" y="38.6" font-size="9.8" fill="#000" stroke="#000" stroke-width="0.15" textLength="33" lengthAdjust="spacingAndGlyphs" >1.00570</text>
<rect x="1599" y="68" width="2" height="1" fill="#000"/>
<text x="1604.3" y="71.6" font-size="9.8" fill="#000" stroke="#000" stroke-width="0.15" textLength="33" lengthAdjust="spacingAndGlyphs" >0.99970</text>
<rect x="1599" y="101" width="2" height="1" fill="#000"/>
<text x="1604.3" y="104.6" font-size="9.8" fill="#000" stroke="#000" stroke-width="0.15" textLength="33" lengthAdjust="spacingAndGlyphs" >0.99385</text>
<rect x="1599" y="134" width="2" height="1" fill="#000"/>
<text x="1604.3" y="137.6" font-size="9.8" fill="#000" stroke="#000" stroke-width="0.15" textLength="33" lengthAdjust="spacingAndGlyphs" >0.98785</text>
<rect x="1599" y="167" width="2" height="1" fill="#000"/>
<text x="1604.3" y="170.6" font-size="9.8" fill="#000" stroke="#000" stroke-width="0.15" textLength="33" lengthAdjust="spacingAndGlyphs" >0.98185</text>
<rect x="1599" y="200" width="2" height="1" fill="#000"/>
<text x="1604.3" y="203.6" font-size="9.8" fill="#000" stroke="#000" stroke-width="0.15" textLength="33" lengthAdjust="spacingAndGlyphs" >0.97600</text>
<rect x="1599" y="233" width="2" height="1" fill="#000"/>
<text x="1604.3" y="236.6" font-size="9.8" fill="#000" stroke="#000" stroke-width="0.15" textLength="33" lengthAdjust="spacingAndGlyphs" >0.97000</text>
<rect x="1599" y="266" width="2" height="1" fill="#000"/>
<text x="1604.3" y="269.6" font-size="9.8" fill="#000" stroke="#000" stroke-width="0.15" textLength="33" lengthAdjust="spacingAndGlyphs" >0.96400</text>
<rect x="1599" y="299" width="2" height="1" fill="#000"/>
<text x="1604.3" y="302.6" font-size="9.8" fill="#000" stroke="#000" stroke-width="0.15" textLength="33" lengthAdjust="spacingAndGlyphs" >0.95800</text>
<rect x="1599" y="332" width="2" height="1" fill="#000"/>
<text x="1604.3" y="335.6" font-size="9.8" fill="#000" stroke="#000" stroke-width="0.15" textLength="33" lengthAdjust="spacingAndGlyphs" >0.95215</text>
<rect x="1599" y="365" width="2" height="1" fill="#000"/>
<text x="1604.3" y="368.6" font-size="9.8" fill="#000" stroke="#000" stroke-width="0.15" textLength="33" lengthAdjust="spacingAndGlyphs" >0.94615</text>
<rect x="1599" y="398" width="2" height="1" fill="#000"/>
<text x="1604.3" y="401.6" font-size="9.8" fill="#000" stroke="#000" stroke-width="0.15" textLength="33" lengthAdjust="spacingAndGlyphs" >0.94030</text>
<rect x="1599" y="431" width="2" height="1" fill="#000"/>
<text x="1604.3" y="434.6" font-size="9.8" fill="#000" stroke="#000" stroke-width="0.15" textLength="33" lengthAdjust="spacingAndGlyphs" >0.93430</text>
<rect x="1599" y="464" width="2" height="1" fill="#000"/>
<text x="1604.3" y="467.6" font-size="9.8" fill="#000" stroke="#000" stroke-width="0.15" textLength="33" lengthAdjust="spacingAndGlyphs" >0.92830</text>
<rect x="1599" y="497" width="2" height="1" fill="#000"/>
<text x="1604.3" y="500.6" font-size="9.8" fill="#000" stroke="#000" stroke-width="0.15" textLength="33" lengthAdjust="spacingAndGlyphs" >0.92245</text>
<rect x="1599" y="530" width="2" height="1" fill="#000"/>
<text x="1604.3" y="533.6" font-size="9.8" fill="#000" stroke="#000" stroke-width="0.15" textLength="33" lengthAdjust="spacingAndGlyphs" >0.91645</text>
<rect x="1600" y="171" width="41" height="11" fill="#ff0000"/>
<text x="1604.3" y="180.1" font-size="9.8" fill="#fff" stroke="#fff" stroke-width="0.15" textLength="33" lengthAdjust="spacingAndGlyphs" >0.98008</text>
<rect x="1600" y="238" width="41" height="11" fill="#ff0000"/>
<text x="1604.3" y="247.1" font-size="9.8" fill="#fff" stroke="#fff" stroke-width="0.15" textLength="33" lengthAdjust="spacingAndGlyphs" >0.96803</text>
<rect x="1600" y="296" width="41" height="11" fill="#00ff00"/>
<text x="1604.3" y="305.1" font-size="9.8" fill="#fff" stroke="#fff" stroke-width="0.15" textLength="33" lengthAdjust="spacingAndGlyphs" >0.95758</text>
<rect x="1600" y="371" width="41" height="11" fill="#0000ff"/>
<text x="1604.3" y="380.1" font-size="9.8" fill="#fff" stroke="#fff" stroke-width="0.15" textLength="33" lengthAdjust="spacingAndGlyphs" >0.94408</text>
<rect x="1600" y="449" width="41" height="11" fill="#0000ff"/>
<text x="1604.3" y="458.1" font-size="9.8" fill="#fff" stroke="#fff" stroke-width="0.15" textLength="33" lengthAdjust="spacingAndGlyphs" >0.93004</text>
<rect x="1600" y="330" width="41" height="11" fill="#000"/>
<text x="1604.3" y="339.1" font-size="9.8" fill="#fff" stroke="#fff" stroke-width="0.15" textLength="33" lengthAdjust="spacingAndGlyphs" >0.95164</text>
<path d="M9 33.5 H16 L12.5 37.5 Z" fill="#000" shape-rendering="geometricPrecision"/>
<text x="21" y="38.6" font-size="9.8" fill="#000" stroke="#000" stroke-width="0.15" textLength="64.6" lengthAdjust="spacingAndGlyphs" >USDCHF,Daily</text>
<text x="91.8" y="38.6" font-size="9.8" fill="#000" stroke="#000" stroke-width="0.15" textLength="141" lengthAdjust="spacingAndGlyphs" >0.95039 0.95241 0.95023 0.95164</text>
<path stroke="#c0c0c0" stroke-width="1" stroke-dasharray="3,3" fill="none" d="M6 563.5H1598M6 599.5H1598"/>
<path fill="#1e90ff" d="M6 598h3v1h-3zM9 599h5v1h-5zM14 597h1v3h-1zM15 593h1v4h-1zM16 589h1v4h-1zM17 585h1v4h-1zM18 583h1v2h-1zM19 583h2v1h-2zM21 584h4v1h-4zM25 583h4v1h-4zM29 584h1v1h-1zM30 583h1v2h-1zM31 581h1v2h-1zM32 579h1v2h-1zM33 577h1v2h-1zM34 576h3v1h-3zM37 577h3v1h-3zM40 576h2v1h-2zM42 575h2v1h-2zM44 576h2v1h-2zM46 577h1v1h-1zM47 578h1v1h-1zM48 579h1v1h-1zM49 580h1v1h-1zM50 581h3v1h-3zM53 582h2v1h-2zM55 583h1v1h-1zM56 584h1v1h-1zM57 585h1v1h-1zM58 586h3v1h-3zM61 587h4v1h-4zM65 586h2v1h-2zM67 584h1v2h-1zM68 583h1v1h-1zM69 581h1v2h-1zM70 580h1v1h-1zM71 581h2v1h-2zM73 582h1v1h-1zM74 583h3v1h-3zM77 584h2v1h-2zM79 585h1v1h-1zM80 586h1v2h-1zM81 588h1v1h-1zM82 589h3v1h-3zM85 588h6v1h-6zM91 587h1v1h-1zM92 586h1v1h-1zM93 585h1v1h-1zM94 584h3v1h-3zM97 583h2v1h-2zM99 581h1v2h-1zM100 579h1v2h-1zM101 577h1v2h-1zM102 576h1v1h-1zM103 575h1v1h-1zM104 574h1v1h-1zM105 573h1v1h-1zM106 572h3v1h-3zM109 571h2v1h-2zM111 572h1v1h-1zM112 573h1v2h-1zM113 575h1v1h-1zM114 576h2v1h-2zM116 577h2v1h-2zM118 578h5v1h-5zM123 577h1v1h-1zM124 575h1v2h-1zM125 574h1v1h-1zM126 573h1v3h-1zM127 576h1v4h-1zM128 580h1v4h-1zM129 584h1v4h-1zM130 588h1v2h-1zM131 589h2v1h-2zM133 588h1v1h-1zM134 588h1v2h-1zM135 590h1v2h-1zM136 592h1v2h-1zM137 594h1v2h-1zM138 596h1v2h-1zM139 594h1v2h-1zM140 592h1v2h-1zM141 590h1v2h-1zM142 589h1v1h-1zM143 590h1v1h-1zM144 591h1v2h-1zM145 593h1v1h-1zM146 594h1v1h-1zM147 593h1v1h-1zM148 591h1v2h-1zM149 590h1v1h-1zM150 589h1v1h-1zM151 590h2v1h-2zM153 591h1v1h-1zM154 592h3v1h-3zM157 591h3v1h-3zM160 592h2v1h-2zM162 593h1v1h-1zM163 591h1v2h-1zM164 590h1v1h-1zM165 588h1v2h-1zM166 587h3v1h-3zM169 588h2v1h-2zM171 587h2v1h-2zM173 586h1v1h-1zM174 585h1v1h-1zM175 584h1v1h-1zM176 583h1v1h-1zM177 582h1v1h-1zM178 581h2v1h-2zM180 582h2v1h-2zM182 583h1v1h-1zM183 582h2v1h-2zM185 581h1v1h-1zM186 580h2v1h-2zM188 581h2v1h-2zM190 582h2v1h-2zM192 581h2v1h-2zM194 580h2v1h-2zM196 579h2v1h-2zM198 578h1v2h-1zM199 580h1v2h-1zM200 582h1v2h-1zM201 584h1v2h-1zM202 586h1v2h-1zM203 587h4v1h-4zM207 586h1v1h-1zM208 585h1v1h-1zM209 584h1v1h-1zM210 583h1v1h-1zM211 582h1v1h-1zM212 581h1v1h-1zM213 580h1v1h-1zM214 579h3v1h-3zM217 580h2v1h-2zM219 579h1v1h-1zM220 578h1v1h-1zM221 577h1v1h-1zM222 576h1v1h-1zM223 575h1v1h-1zM224 574h1v1h-1zM225 573h1v1h-1zM226 572h3v1h-3zM229 571h4v1h-4zM233 572h2v1h-2zM235 573h1v1h-1zM236 574h1v1h-1zM237 575h1v1h-1zM238 576h1v1h-1zM239 577h1v2h-1zM240 579h1v1h-1zM241 580h1v2h-1zM242 582h1v1h-1zM243 581h1v1h-1zM244 579h1v2h-1zM245 578h1v1h-1zM246 577h7v1h-7zM253 576h2v1h-2zM255 575h2v1h-2zM257 574h1v1h-1zM258 573h3v1h-3zM261 574h2v1h-2zM263 573h2v1h-2zM265 572h1v1h-1zM266 571h1v1h-1zM267 572h1v2h-1zM268 574h1v1h-1zM269 575h1v2h-1zM270 577h3v1h-3zM273 576h4v1h-4zM277 575h4v1h-4zM281 574h4v1h-4zM285 573h2v1h-2zM287 572h2v1h-2zM289 571h1v1h-1zM290 570h1v1h-1zM291 571h1v1h-1zM292 572h1v1h-1zM293 573h1v1h-1zM294 574h6v1h-6zM300 575h2v1h-2zM302 576h1v1h-1zM303 577h1v1h-1zM304 578h1v1h-1zM305 579h1v1h-1zM306 580h1v1h-1zM307 581h2v1h-2zM309 582h1v1h-1zM310 583h1v1h-1zM311 582h1v1h-1zM312 580h1v2h-1zM313 579h1v1h-1zM314 578h1v1h-1zM315 577h2v1h-2zM317 576h1v1h-1zM318 575h2v1h-2zM320 576h2v1h-2zM322 577h2v1h-2zM324 578h2v1h-2zM326 578h1v2h-1zM327 576h1v2h-1zM328 574h1v2h-1zM329 572h1v2h-1zM330 570h1v2h-1zM331 571h1v2h-1zM332 573h1v2h-1zM333 575h1v2h-1zM334 577h1v1h-1zM335 576h1v1h-1zM336 574h1v2h-1zM337 573h1v1h-1zM338 572h3v1h-3zM341 573h3v1h-3zM344 574h2v1h-2zM346 575h2v1h-2zM348 576h2v1h-2zM350 577h7v1h-7zM357 578h3v1h-3zM360 577h2v1h-2zM362 576h6v1h-6zM368 575h2v1h-2zM370 574h3v1h-3zM373 573h4v1h-4zM377 574h3v1h-3zM380 573h2v1h-2zM382 572h1v1h-1zM383 573h1v2h-1zM384 575h1v1h-1zM385 576h1v2h-1zM386 578h1v2h-1zM387 580h1v3h-1zM388 583h1v4h-1zM389 587h1v3h-1zM390 590h1v2h-1zM391 591h1v1h-1zM392 592h2v1h-2zM394 593h5v1h-5zM399 592h2v1h-2zM401 591h1v1h-1zM402 590h1v1h-1zM403 589h1v1h-1zM404 588h1v1h-1zM405 587h1v1h-1zM406 586h1v1h-1zM407 585h2v1h-2zM409 584h1v1h-1zM410 583h1v1h-1zM411 582h2v1h-2zM413 581h1v1h-1zM414 580h1v1h-1zM415 579h2v1h-2zM417 578h1v1h-1zM418 577h3v1h-3zM421 576h3v1h-3zM424 575h2v1h-2zM426 574h1v1h-1zM427 575h1v1h-1zM428 576h1v2h-1zM429 578h1v1h-1zM430 579h1v1h-1zM431 580h1v1h-1zM432 581h1v2h-1zM433 583h1v1h-1zM434 584h1v1h-1zM435 585h1v2h-1zM436 587h1v1h-1zM437 588h1v2h-1zM438 590h3v1h-3zM441 591h4v1h-4zM445 590h4v1h-4zM449 589h1v1h-1zM450 588h1v2h-1zM451 586h1v2h-1zM452 583h1v3h-1zM453 581h1v2h-1zM454 579h1v2h-1zM455 579h4v1h-4zM459 578h1v1h-1zM460 577h1v1h-1zM461 576h1v1h-1zM462 575h1v1h-1zM463 574h2v1h-2zM465 573h1v1h-1zM466 572h3v1h-3zM469 571h2v1h-2zM471 572h1v2h-1zM472 574h1v1h-1zM473 575h1v2h-1zM474 577h3v1h-3zM477 578h1v1h-1zM478 578h1v2h-1zM479 580h1v2h-1zM480 582h1v2h-1zM481 584h1v2h-1zM482 586h3v1h-3zM485 587h3v1h-3zM488 586h2v1h-2zM490 585h5v1h-5zM495 586h2v1h-2zM497 587h1v1h-1zM498 588h1v1h-1zM499 587h1v1h-1zM500 586h1v1h-1zM501 585h1v1h-1zM502 584h1v1h-1zM503 583h1v1h-1zM504 581h1v2h-1zM505 580h1v1h-1zM506 579h2v1h-2zM508 580h2v1h-2zM510 581h1v1h-1zM511 579h1v2h-1zM512 577h1v2h-1zM513 575h1v2h-1zM514 574h2v1h-2zM516 573h2v1h-2zM518 572h3v1h-3zM521 573h3v1h-3zM524 572h2v1h-2zM526 571h3v1h-3zM529 570h4v1h-4zM533 571h4v1h-4zM537 570h4v1h-4zM541 569h1v1h-1zM542 569h1v2h-1zM543 571h1v4h-1zM544 575h1v4h-1zM545 579h1v4h-1zM546 583h1v3h-1zM547 586h1v2h-1zM548 588h1v2h-1zM549 590h1v2h-1zM550 592h1v1h-1zM551 591h1v1h-1zM552 590h1v1h-1zM553 589h1v1h-1zM554 588h3v1h-3zM557 589h2v1h-2zM559 588h1v1h-1zM560 586h1v2h-1zM561 585h1v1h-1zM562 584h2v1h-2zM564 585h2v1h-2zM566 586h2v1h-2zM568 587h2v1h-2zM570 588h1v1h-1zM571 589h2v1h-2zM573 590h1v1h-1zM574 591h3v1h-3zM577 590h4v1h-4zM581 589h2v1h-2zM583 590h1v1h-1zM584 591h1v2h-1zM585 593h1v1h-1zM586 594h1v1h-1zM587 593h2v1h-2zM589 592h1v1h-1zM590 591h3v1h-3zM593 592h2v1h-2zM595 593h1v1h-1zM596 594h1v2h-1zM597 596h1v1h-1zM598 597h1v1h-1zM599 596h1v1h-1zM600 594h1v2h-1zM601 593h1v1h-1zM602 592h1v1h-1zM603 593h1v1h-1zM604 594h1v1h-1zM605 595h1v1h-1zM606 596h1v1h-1zM607 594h1v2h-1zM608 593h1v1h-1zM609 591h1v2h-1zM610 590h2v1h-2zM612 589h2v1h-2zM614 588h5v1h-5zM619 589h2v1h-2zM621 590h1v1h-1zM622 591h3v1h-3zM625 592h2v1h-2zM627 591h1v1h-1zM628 590h1v1h-1zM629 589h1v1h-1zM630 588h1v1h-1zM631 589h1v2h-1zM632 591h1v2h-1zM633 593h1v2h-1zM634 595h1v1h-1zM635 596h2v1h-2zM637 597h1v1h-1zM638 598h1v1h-1zM639 599h2v1h-2zM641 600h1v1h-1zM642 601h3v1h-3zM645 602h4v1h-4zM649 603h2v1h-2zM651 602h1v1h-1zM652 601h1v1h-1zM653 600h1v1h-1zM654 599h1v1h-1zM655 598h2v1h-2zM657 597h1v1h-1zM658 596h1v1h-1zM659 595h1v1h-1zM660 594h1v1h-1zM661 593h1v1h-1zM662 592h1v1h-1zM663 593h1v1h-1zM664 594h1v1h-1zM665 595h1v1h-1zM666 596h1v1h-1zM667 594h1v2h-1zM668 593h1v1h-1zM669 591h1v2h-1zM670 590h2v1h-2zM672 591h2v1h-2zM674 592h1v1h-1zM675 591h1v1h-1zM676 589h1v2h-1zM677 588h1v1h-1zM678 587h3v1h-3zM681 586h3v1h-3zM684 587h2v1h-2zM686 588h2v1h-2zM688 589h2v1h-2zM690 590h1v1h-1zM691 591h2v1h-2zM693 592h1v1h-1zM694 593h1v1h-1zM695 594h1v1h-1zM696 595h1v1h-1zM697 596h1v1h-1zM698 597h3v1h-3zM701 598h1v1h-1zM702 597h1v2h-1zM703 595h1v2h-1zM704 593h1v2h-1zM705 591h1v2h-1zM706 590h5v1h-5zM711 589h2v1h-2zM713 588h1v1h-1zM714 587h2v1h-2zM716 588h2v1h-2zM718 589h1v1h-1zM719 588h1v1h-1zM720 587h1v1h-1zM721 586h1v1h-1zM722 585h3v1h-3zM725 586h2v1h-2zM727 585h2v1h-2zM729 584h1v1h-1zM730 583h3v1h-3zM733 584h4v1h-4zM737 585h2v1h-2zM739 583h1v2h-1zM740 581h1v2h-1zM741 579h1v2h-1zM742 578h2v1h-2zM744 577h2v1h-2zM746 576h1v2h-1zM747 578h1v3h-1zM748 581h1v2h-1zM749 583h1v3h-1zM750 586h1v2h-1zM751 588h1v1h-1zM752 589h1v1h-1zM753 590h1v1h-1zM754 591h2v1h-2zM756 592h2v1h-2zM758 593h1v1h-1zM759 591h1v2h-1zM760 590h1v1h-1zM761 588h1v2h-1zM762 587h1v1h-1zM763 586h1v1h-1zM764 584h1v2h-1zM765 583h1v1h-1zM766 582h1v1h-1zM767 581h1v1h-1zM768 580h1v1h-1zM769 579h1v1h-1zM770 578h1v1h-1zM771 577h2v1h-2zM773 576h1v1h-1zM774 575h3v1h-3zM777 574h4v1h-4zM781 573h12v1h-12zM793 574h2v1h-2zM795 573h2v1h-2zM797 572h1v1h-1zM798 571h1v1h-1zM799 570h2v1h-2zM801 569h1v1h-1zM802 568h3v1h-3zM805 567h8v1h-8zM813 568h2v1h-2zM815 567h2v1h-2zM817 566h1v1h-1zM818 565h1v1h-1zM819 566h2v1h-2zM821 567h1v1h-1zM822 568h1v2h-1zM823 570h1v2h-1zM824 572h1v3h-1zM825 575h1v2h-1zM826 577h1v2h-1zM827 578h2v1h-2zM829 579h7v1h-7zM836 580h2v1h-2zM838 581h3v1h-3zM841 580h1v1h-1zM842 580h1v2h-1zM843 582h1v3h-1zM844 585h1v3h-1zM845 588h1v3h-1zM846 591h1v2h-1zM847 593h2v1h-2zM849 594h1v1h-1zM850 595h1v1h-1zM851 596h2v1h-2zM853 597h1v1h-1zM854 598h1v1h-1zM855 599h1v1h-1zM856 600h1v2h-1zM857 602h1v1h-1zM858 603h1v1h-1zM859 604h2v1h-2zM861 605h1v1h-1zM862 606h5v1h-5zM867 607h2v1h-2zM869 608h1v1h-1zM870 609h1v1h-1zM871 610h1v1h-1zM872 611h1v2h-1zM873 613h1v1h-1zM874 614h6v1h-6zM880 615h2v1h-2zM882 616h1v1h-1zM883 614h1v2h-1zM884 613h1v1h-1zM885 611h1v2h-1zM886 609h1v2h-1zM887 607h1v2h-1zM888 605h1v2h-1zM889 603h1v2h-1zM890 600h1v3h-1zM891 596h1v4h-1zM892 592h1v4h-1zM893 588h1v4h-1zM894 585h1v3h-1zM895 585h6v1h-6zM901 584h2v1h-2zM903 585h1v2h-1zM904 587h1v1h-1zM905 588h1v2h-1zM906 589h1v2h-1zM907 586h1v3h-1zM908 582h1v4h-1zM909 579h1v3h-1zM910 577h1v2h-1zM911 576h1v1h-1zM912 574h1v2h-1zM913 573h1v1h-1zM914 572h1v1h-1zM915 571h1v1h-1zM916 569h1v2h-1zM917 568h1v1h-1zM918 567h3v1h-3zM921 566h4v1h-4zM925 565h2v1h-2zM927 566h1v1h-1zM928 567h1v2h-1zM929 569h1v1h-1zM930 570h3v1h-3zM933 571h2v1h-2zM935 572h2v1h-2zM937 573h1v1h-1zM938 574h1v2h-1zM939 576h1v2h-1zM940 578h1v2h-1zM941 580h1v2h-1zM942 582h1v2h-1zM943 584h1v1h-1zM944 585h1v2h-1zM945 587h1v1h-1zM946 588h3v1h-3zM949 589h2v1h-2zM951 588h1v1h-1zM952 586h1v2h-1zM953 585h1v1h-1zM954 584h3v1h-3zM957 583h2v1h-2zM959 582h2v1h-2zM961 581h1v1h-1zM962 580h1v1h-1zM963 579h2v1h-2zM965 578h1v1h-1zM966 577h1v1h-1zM967 576h2v1h-2zM969 575h1v1h-1zM970 574h3v1h-3zM973 575h6v1h-6zM979 576h1v1h-1zM980 577h1v2h-1zM981 579h1v1h-1zM982 580h3v1h-3zM985 579h2v1h-2zM987 580h1v1h-1zM988 581h1v1h-1zM989 582h1v1h-1zM990 583h3v1h-3zM993 584h4v1h-4zM997 583h4v1h-4zM1001 582h2v1h-2zM1003 583h1v1h-1zM1004 584h1v2h-1zM1005 586h1v1h-1zM1006 587h1v1h-1zM1007 586h1v1h-1zM1008 585h1v1h-1zM1009 584h1v1h-1zM1010 583h1v1h-1zM1011 582h1v1h-1zM1012 581h1v1h-1zM1013 580h1v1h-1zM1014 579h1v1h-1zM1015 580h2v1h-2zM1017 581h1v1h-1zM1018 582h3v1h-3zM1021 581h7v1h-7zM1028 580h2v1h-2zM1030 579h3v1h-3zM1033 578h3v1h-3zM1036 577h2v1h-2zM1038 576h2v1h-2zM1040 575h2v1h-2zM1042 574h11v1h-11zM1053 575h5v1h-5zM1058 575h1v2h-1zM1059 577h1v2h-1zM1060 579h1v3h-1zM1061 582h1v2h-1zM1062 584h1v2h-1zM1063 586h1v2h-1zM1064 588h1v1h-1zM1065 589h1v2h-1zM1066 591h2v1h-2zM1068 590h2v1h-2zM1070 589h1v1h-1zM1071 588h1v1h-1zM1072 587h1v1h-1zM1073 586h1v1h-1zM1074 585h1v1h-1zM1075 583h1v2h-1zM1076 581h1v2h-1zM1077 579h1v2h-1zM1078 578h2v1h-2zM1080 577h2v1h-2zM1082 576h3v1h-3zM1085 575h2v1h-2zM1087 576h1v2h-1zM1088 578h1v1h-1zM1089 579h1v2h-1zM1090 581h3v1h-3zM1093 580h4v1h-4zM1097 579h2v1h-2zM1099 580h1v1h-1zM1100 581h1v1h-1zM1101 582h1v1h-1zM1102 583h2v1h-2zM1104 582h2v1h-2zM1106 581h1v1h-1zM1107 580h2v1h-2zM1109 579h1v1h-1zM1110 578h7v1h-7zM1117 579h3v1h-3zM1120 580h2v1h-2zM1122 581h1v1h-1zM1123 580h2v1h-2zM1125 579h1v1h-1zM1126 578h1v2h-1zM1127 580h1v2h-1zM1128 582h1v2h-1zM1129 584h1v2h-1zM1130 586h1v2h-1zM1131 585h1v2h-1zM1132 583h1v2h-1zM1133 581h1v2h-1zM1134 580h3v1h-3zM1137 579h7v1h-7zM1144 580h2v1h-2zM1146 581h1v1h-1zM1147 582h1v1h-1zM1148 583h1v1h-1zM1149 584h1v1h-1zM1150 585h1v1h-1zM1151 584h2v1h-2zM1153 583h1v1h-1zM1154 582h1v1h-1zM1155 583h1v2h-1zM1156 585h1v1h-1zM1157 586h1v2h-1zM1158 588h2v1h-2zM1160 589h2v1h-2zM1162 590h11v1h-11zM1173 589h4v1h-4zM1177 590h2v1h-2zM1179 591h1v1h-1zM1180 592h1v2h-1zM1181 594h1v1h-1zM1182 594h1v2h-1zM1183 592h1v2h-1zM1184 590h1v2h-1zM1185 588h1v2h-1zM1186 586h1v2h-1zM1187 586h4v1h-4zM1191 587h1v2h-1zM1192 589h1v1h-1zM1193 590h1v2h-1zM1194 592h1v1h-1zM1195 593h1v2h-1zM1196 595h1v1h-1zM1197 596h1v2h-1zM1198 598h2v1h-2zM1200 599h2v1h-2zM1202 600h1v1h-1zM1203 601h1v1h-1zM1204 602h1v1h-1zM1205 603h1v1h-1zM1206 603h1v2h-1zM1207 599h1v4h-1zM1208 595h1v4h-1zM1209 591h1v4h-1zM1210 589h1v2h-1zM1211 588h2v1h-2zM1213 587h1v1h-1zM1214 586h1v1h-1zM1215 587h2v1h-2zM1217 588h1v1h-1zM1218 589h6v1h-6zM1224 588h2v1h-2zM1226 587h3v1h-3zM1229 588h3v1h-3zM1232 587h2v1h-2zM1234 586h3v1h-3zM1237 587h2v1h-2zM1239 588h2v1h-2zM1241 589h1v1h-1zM1242 590h1v1h-1zM1243 591h2v1h-2zM1245 592h1v1h-1zM1246 593h1v1h-1zM1247 592h1v1h-1zM1248 591h1v1h-1zM1249 590h1v1h-1zM1250 589h2v1h-2zM1252 588h2v1h-2zM1254 587h3v1h-3zM1257 588h6v1h-6zM1263 587h1v1h-1zM1264 586h1v1h-1zM1265 585h1v1h-1zM1266 584h3v1h-3zM1269 583h2v1h-2z"/>
<text x="10" y="547.6" font-size="9.8" fill="#000" stroke="#000" stroke-width="0.15" textLength="68" lengthAdjust="spacingAndGlyphs" >RSI(14) 48.1210</text>
<rect x="1599" y="537" width="2" height="1" fill="#000"/>
<text x="1603" y="545.6" font-size="9.8" fill="#000" stroke="#000" stroke-width="0.15" textLength="14.4" lengthAdjust="spacingAndGlyphs" >100</text>
<rect x="1599" y="563" width="2" height="1" fill="#000"/>
<text x="1603" y="566.6" font-size="9.8" fill="#000" stroke="#000" stroke-width="0.15" textLength="9.4" lengthAdjust="spacingAndGlyphs" >70</text>
<rect x="1599" y="599" width="2" height="1" fill="#000"/>
<text x="1603" y="602.6" font-size="9.8" fill="#000" stroke="#000" stroke-width="0.15" textLength="9.4" lengthAdjust="spacingAndGlyphs" >30</text>
<text x="1603" y="623.6" font-size="9.8" fill="#000" stroke="#000" stroke-width="0.15" textLength="4.4" lengthAdjust="spacingAndGlyphs" >0</text>
<path fill="#c0c0c0" d="M6 661h1V698h-1Z M10 661h1V698h-1Z M14 661h1V698h-1Z M18 661h1V693h-1Z M22 661h1V689h-1Z M26 661h1V685h-1Z M30 661h1V682h-1Z M34 661h1V677h-1Z M38 661h1V673h-1Z M42 661h1V669h-1Z M46 661h1V666h-1Z M50 661h1V666h-1Z M54 661h1V665h-1Z M58 661h1V666h-1Z M62 661h1V667h-1Z M66 661h1V668h-1Z M70 661h1V666h-1Z M74 661h1V666h-1Z M78 661h1V666h-1Z M82 661h1V668h-1Z M86 661h1V669h-1Z M90 661h1V670h-1Z M94 661h1V669h-1Z M98 661h1V668h-1Z M102 661h1V666h-1Z M106 661h1V663h-1Z M110 659h1V662h-1Z M114 658h1V662h-1Z M118 657h1V662h-1Z M122 657h1V662h-1Z M126 655h1V662h-1Z M130 659h1V662h-1Z M134 661h1V663h-1Z M138 661h1V669h-1Z M142 661h1V671h-1Z M146 661h1V676h-1Z M150 661h1V678h-1Z M154 661h1V680h-1Z M158 661h1V682h-1Z M162 661h1V684h-1Z M166 661h1V683h-1Z M170 661h1V683h-1Z M174 661h1V682h-1Z M178 661h1V679h-1Z M182 661h1V677h-1Z M186 661h1V674h-1Z M190 661h1V673h-1Z M194 661h1V670h-1Z M198 661h1V668h-1Z M202 661h1V669h-1Z M206 661h1V670h-1Z M210 661h1V669h-1Z M214 661h1V667h-1Z M218 661h1V666h-1Z M222 661h1V663h-1Z M226 658h1V662h-1Z M230 654h1V662h-1Z M234 652h1V662h-1Z M238 651h1V662h-1Z M242 653h1V662h-1Z M246 653h1V662h-1Z M250 652h1V662h-1Z M254 652h1V662h-1Z M258 650h1V662h-1Z M262 649h1V662h-1Z M266 647h1V662h-1Z M270 648h1V662h-1Z M274 648h1V662h-1Z M278 648h1V662h-1Z M282 648h1V662h-1Z M286 647h1V662h-1Z M290 646h1V662h-1Z M294 646h1V662h-1Z M298 647h1V662h-1Z M302 648h1V662h-1Z M306 649h1V662h-1Z M310 652h1V662h-1Z M314 652h1V662h-1Z M318 652h1V662h-1Z M322 652h1V662h-1Z M326 653h1V662h-1Z M330 651h1V662h-1Z M334 651h1V662h-1Z M338 650h1V662h-1Z M342 649h1V662h-1Z M346 649h1V662h-1Z M350 649h1V662h-1Z M354 650h1V662h-1Z M358 651h1V662h-1Z M362 651h1V662h-1Z M366 652h1V662h-1Z M370 651h1V662h-1Z M374 651h1V662h-1Z M378 651h1V662h-1Z M382 651h1V662h-1Z M386 652h1V662h-1Z M390 656h1V662h-1Z M394 660h1V662h-1Z M398 661h1V664h-1Z M402 661h1V666h-1Z M406 661h1V667h-1Z M410 661h1V666h-1Z M414 661h1V665h-1Z M418 661h1V664h-1Z M422 661h1V662h-1Z M426 660h1V662h-1Z M430 659h1V662h-1Z M434 660h1V662h-1Z M438 661h1V664h-1Z M442 661h1V666h-1Z M446 661h1V668h-1Z M450 661h1V669h-1Z M454 661h1V667h-1Z M458 661h1V666h-1Z M462 661h1V664h-1Z M466 660h1V662h-1Z M470 658h1V662h-1Z M474 657h1V662h-1Z M478 657h1V662h-1Z M482 659h1V662h-1Z M486 661h1V662h-1Z M490 661h1V663h-1Z M494 661h1V664h-1Z M498 661h1V665h-1Z M502 661h1V665h-1Z M506 661h1V664h-1Z M510 661h1V664h-1Z M514 661h1V662h-1Z M518 658h1V662h-1Z M522 657h1V662h-1Z M526 655h1V662h-1Z M530 653h1V662h-1Z M534 652h1V662h-1Z M538 651h1V662h-1Z M542 651h1V662h-1Z M546 653h1V662h-1Z M550 657h1V662h-1Z M554 660h1V662h-1Z M558 661h1V663h-1Z M562 661h1V664h-1Z M566 661h1V665h-1Z M570 661h1V666h-1Z M574 661h1V668h-1Z M578 661h1V669h-1Z M582 661h1V670h-1Z M586 661h1V672h-1Z M590 661h1V673h-1Z M594 661h1V674h-1Z M598 661h1V676h-1Z M602 661h1V677h-1Z M606 661h1V679h-1Z M610 661h1V678h-1Z M614 661h1V678h-1Z M618 661h1V677h-1Z M622 661h1V677h-1Z M626 661h1V677h-1Z M630 661h1V677h-1Z M634 661h1V678h-1Z M638 661h1V680h-1Z M642 661h1V683h-1Z M646 661h1V686h-1Z M650 661h1V688h-1Z M654 661h1V688h-1Z M658 661h1V688h-1Z M662 661h1V687h-1Z M666 661h1V687h-1Z M670 661h1V685h-1Z M674 661h1V685h-1Z M678 661h1V683h-1Z M682 661h1V681h-1Z M686 661h1V680h-1Z M690 661h1V679h-1Z M694 661h1V679h-1Z M698 661h1V681h-1Z M702 661h1V682h-1Z M706 661h1V681h-1Z M710 661h1V680h-1Z M714 661h1V679h-1Z M718 661h1V678h-1Z M722 661h1V677h-1Z M726 661h1V675h-1Z M730 661h1V674h-1Z M734 661h1V672h-1Z M738 661h1V672h-1Z M742 661h1V669h-1Z M746 661h1V667h-1Z M750 661h1V667h-1Z M754 661h1V670h-1Z M758 661h1V672h-1Z M762 661h1V672h-1Z M766 661h1V671h-1Z M770 661h1V668h-1Z M774 661h1V665h-1Z M778 661h1V663h-1Z M782 659h1V662h-1Z M786 657h1V662h-1Z M790 656h1V662h-1Z M794 655h1V662h-1Z M798 653h1V662h-1Z M802 651h1V662h-1Z M806 649h1V662h-1Z M810 648h1V662h-1Z M814 647h1V662h-1Z M818 646h1V662h-1Z M822 646h1V662h-1Z M826 648h1V662h-1Z M830 649h1V662h-1Z M834 651h1V662h-1Z M838 652h1V662h-1Z M842 653h1V662h-1Z M846 657h1V662h-1Z M850 661h1V662h-1Z M854 661h1V666h-1Z M858 661h1V672h-1Z M862 661h1V678h-1Z M866 661h1V682h-1Z M870 661h1V687h-1Z M874 661h1V696h-1Z M878 661h1V703h-1Z M882 661h1V711h-1Z M886 661h1V715h-1Z M890 661h1V716h-1Z M894 661h1V709h-1Z M898 661h1V704h-1Z M902 661h1V699h-1Z M906 661h1V697h-1Z M910 661h1V689h-1Z M914 661h1V678h-1Z M918 661h1V665h-1Z M922 653h1V662h-1Z M926 644h1V662h-1Z M930 639h1V662h-1Z M934 636h1V662h-1Z M938 636h1V662h-1Z M942 641h1V662h-1Z M946 649h1V662h-1Z M950 656h1V662h-1Z M954 659h1V662h-1Z M958 660h1V662h-1Z M962 659h1V662h-1Z M966 656h1V662h-1Z M970 652h1V662h-1Z M974 650h1V662h-1Z M978 648h1V662h-1Z M982 649h1V662h-1Z M986 650h1V662h-1Z M990 652h1V662h-1Z M994 655h1V662h-1Z M998 657h1V662h-1Z M1002 658h1V662h-1Z M1006 661h1V663h-1Z M1010 661h1V663h-1Z M1014 661h1V662h-1Z M1018 661h1V663h-1Z M1022 661h1V662h-1Z M1026 661h1V663h-1Z M1030 661h1V662h-1Z M1034 659h1V662h-1Z M1038 657h1V662h-1Z M1042 655h1V662h-1Z M1046 653h1V662h-1Z M1050 652h1V662h-1Z M1054 651h1V662h-1Z M1058 651h1V662h-1Z M1062 654h1V662h-1Z M1066 659h1V662h-1Z M1070 661h1V663h-1Z M1074 661h1V665h-1Z M1078 661h1V663h-1Z M1082 659h1V662h-1Z M1086 657h1V662h-1Z M1090 658h1V662h-1Z M1094 658h1V662h-1Z M1098 657h1V662h-1Z M1102 658h1V662h-1Z M1106 659h1V662h-1Z M1110 658h1V662h-1Z M1114 657h1V662h-1Z M1118 657h1V662h-1Z M1122 658h1V662h-1Z M1126 657h1V662h-1Z M1130 660h1V662h-1Z M1134 660h1V662h-1Z M1138 659h1V662h-1Z M1142 659h1V662h-1Z M1146 659h1V662h-1Z M1150 661h1V662h-1Z M1154 661h1V662h-1Z M1158 661h1V664h-1Z M1162 661h1V667h-1Z M1166 661h1V669h-1Z M1170 661h1V671h-1Z M1174 661h1V672h-1Z M1178 661h1V673h-1Z M1182 661h1V676h-1Z M1186 661h1V675h-1Z M1190 661h1V675h-1Z M1194 661h1V676h-1Z M1198 661h1V681h-1Z M1202 661h1V686h-1Z M1206 661h1V692h-1Z M1210 661h1V691h-1Z M1214 661h1V689h-1Z M1218 661h1V688h-1Z M1222 661h1V688h-1Z M1226 661h1V687h-1Z M1230 661h1V686h-1Z M1234 661h1V684h-1Z M1238 661h1V683h-1Z M1242 661h1V683h-1Z M1246 661h1V685h-1Z M1250 661h1V684h-1Z M1254 661h1V683h-1Z M1258 661h1V682h-1Z M1262 661h1V682h-1Z M1266 661h1V680h-1Z M1270 661h1V677h-1Z"/>
<path fill="#ff0000" d="M8 688h1v1h-1zM9 689h1v1h-1zM10 690h1v1h-1zM14 692h3v1h-3zM20 693h1v1h-1zM21 694h2v1h-2zM26 693h3v1h-3zM32 691h2v1h-2zM34 690h1v1h-1zM38 687h1v1h-1zM39 686h2v1h-2zM44 682h1v1h-1zM45 681h1v1h-1zM46 680h1v1h-1zM50 677h1v1h-1zM51 676h2v1h-2zM56 673h1v1h-1zM57 672h1v1h-1zM58 671h1v1h-1zM62 669h3v1h-3zM68 667h2v1h-2zM70 666h1v1h-1zM74 666h3v1h-3zM80 665h3v1h-3zM86 666h3v1h-3zM92 666h1v1h-1zM93 667h2v1h-2zM98 667h3v1h-3zM104 667h1v1h-1zM105 666h2v1h-2zM110 665h3v1h-3zM116 665h1v1h-1zM117 664h2v1h-2zM122 662h3v1h-3zM128 661h1v1h-1zM129 660h2v1h-2zM134 659h3v1h-3zM140 659h1v1h-1zM141 660h2v1h-2zM146 662h2v1h-2zM148 663h1v1h-1zM152 665h1v1h-1zM153 666h1v1h-1zM154 667h1v1h-1zM158 669h1v1h-1zM159 670h1v1h-1zM160 671h1v1h-1zM164 674h2v1h-2zM166 675h1v1h-1zM170 677h2v1h-2zM172 678h1v1h-1zM176 679h1v1h-1zM177 680h2v1h-2zM182 680h3v1h-3zM188 679h3v1h-3zM194 677h2v1h-2zM196 676h1v1h-1zM200 675h1v1h-1zM201 674h2v1h-2zM206 672h3v1h-3zM212 671h1v1h-1zM213 670h2v1h-2zM218 669h2v1h-2zM220 668h1v1h-1zM224 667h1v1h-1zM225 666h2v1h-2zM230 664h3v1h-3zM236 662h2v1h-2zM238 661h1v1h-1zM242 659h2v1h-2zM244 658h1v1h-1zM248 657h1v1h-1zM249 656h2v1h-2zM254 654h3v1h-3zM260 653h1v1h-1zM261 652h2v1h-2zM266 651h3v1h-3zM272 651h1v1h-1zM273 650h2v1h-2zM278 650h3v1h-3zM284 649h3v1h-3zM290 648h3v1h-3zM296 648h1v1h-1zM297 647h2v1h-2zM302 647h3v1h-3zM308 648h3v1h-3zM314 648h3v1h-3zM320 649h3v1h-3zM326 650h3v1h-3zM332 651h3v1h-3zM338 651h3v1h-3zM344 651h3v1h-3zM350 651h3v1h-3zM356 650h3v1h-3zM362 650h3v1h-3zM368 650h3v1h-3zM374 650h3v1h-3zM380 651h3v1h-3zM386 651h3v1h-3zM392 652h1v1h-1zM393 653h2v1h-2zM398 654h2v1h-2zM400 655h1v1h-1zM404 656h1v1h-1zM405 657h2v1h-2zM410 659h3v1h-3zM416 661h2v1h-2zM418 662h1v1h-1zM422 663h3v1h-3zM428 663h3v1h-3zM434 663h3v1h-3zM440 662h3v1h-3zM446 662h3v1h-3zM452 663h3v1h-3zM458 664h3v1h-3zM464 664h3v1h-3zM470 664h3v1h-3zM476 663h1v1h-1zM477 662h2v1h-2zM482 661h3v1h-3zM488 661h1v1h-1zM489 660h2v1h-2zM494 660h3v1h-3zM500 660h1v1h-1zM501 661h2v1h-2zM506 661h3v1h-3zM512 662h3v1h-3zM518 662h3v1h-3zM524 662h1v1h-1zM525 661h2v1h-2zM530 660h3v1h-3zM536 658h2v1h-2zM538 657h1v1h-1zM542 656h3v1h-3zM548 655h1v1h-1zM549 654h2v1h-2zM554 654h3v1h-3zM560 655h1v1h-1zM561 656h2v1h-2zM566 657h3v1h-3zM572 659h2v1h-2zM574 660h1v1h-1zM578 662h2v1h-2zM580 663h1v1h-1zM584 664h1v1h-1zM585 665h2v1h-2zM590 667h3v1h-3zM596 668h1v1h-1zM597 669h2v1h-2zM602 671h3v1h-3zM608 672h1v1h-1zM609 673h2v1h-2zM614 674h3v1h-3zM620 675h3v1h-3zM626 676h3v1h-3zM632 676h1v1h-1zM633 677h2v1h-2zM638 677h3v1h-3zM644 677h1v1h-1zM645 678h2v1h-2zM650 679h2v1h-2zM652 680h1v1h-1zM656 681h1v1h-1zM657 682h2v1h-2zM662 683h3v1h-3zM668 684h1v1h-1zM669 685h2v1h-2zM674 685h3v1h-3zM680 685h3v1h-3zM686 684h3v1h-3zM692 683h1v1h-1zM693 682h2v1h-2zM698 681h3v1h-3zM704 681h1v1h-1zM705 680h2v1h-2zM710 680h3v1h-3zM716 679h3v1h-3zM722 679h3v1h-3zM728 678h3v1h-3zM734 677h2v1h-2zM736 676h1v1h-1zM740 675h1v1h-1zM741 674h2v1h-2zM746 673h2v1h-2zM748 672h1v1h-1zM752 671h1v1h-1zM753 670h2v1h-2zM758 670h3v1h-3zM764 669h3v1h-3zM770 669h3v1h-3zM776 668h1v1h-1zM777 667h2v1h-2zM782 666h3v1h-3zM788 665h1v1h-1zM789 664h2v1h-2zM794 662h2v1h-2zM796 661h1v1h-1zM800 659h2v1h-2zM802 658h1v1h-1zM806 656h2v1h-2zM808 655h1v1h-1zM812 654h1v1h-1zM813 653h2v1h-2zM818 651h3v1h-3zM824 650h1v1h-1zM825 649h2v1h-2zM830 649h3v1h-3zM836 648h1v1h-1zM837 649h2v1h-2zM842 649h3v1h-3zM848 650h1v1h-1zM849 651h2v1h-2zM854 654h2v1h-2zM856 655h1v1h-1zM860 658h1v1h-1zM861 659h1v1h-1zM862 660h1v1h-1zM866 663h1v1h-1zM867 664h1v1h-1zM868 665h1v1h-1zM872 669h1v2h-1zM873 671h1v1h-1zM876 675h1v1h-1zM877 676h1v1h-1zM878 677h1v1h-1zM881 681h1v2h-1zM882 683h1v1h-1zM885 687h1v2h-1zM886 689h1v1h-1zM889 693h1v2h-1zM890 695h1v1h-1zM894 699h1v1h-1zM895 700h2v1h-2zM900 703h2v1h-2zM902 704h1v1h-1zM906 705h3v1h-3zM912 703h1v1h-1zM913 702h1v1h-1zM914 701h1v1h-1zM917 697h1v1h-1zM918 696h1v1h-1zM919 695h1v1h-1zM921 690h1v2h-1zM922 689h1v1h-1zM924 684h1v2h-1zM925 683h1v1h-1zM927 679h1v1h-1zM928 677h1v2h-1zM930 673h1v1h-1zM931 671h1v2h-1zM933 667h1v1h-1zM934 666h1v1h-1zM935 665h1v1h-1zM937 660h1v2h-1zM938 659h1v1h-1zM941 654h1v2h-1zM942 653h1v1h-1zM946 649h1v1h-1zM947 648h2v1h-2zM952 646h3v1h-3zM958 647h3v1h-3zM964 649h2v1h-2zM966 650h1v1h-1zM970 652h2v1h-2zM972 653h1v1h-1zM976 654h3v1h-3zM982 654h3v1h-3zM988 654h1v1h-1zM989 653h2v1h-2zM994 652h3v1h-3zM1000 652h3v1h-3zM1006 653h2v1h-2zM1008 654h1v1h-1zM1012 655h1v1h-1zM1013 656h2v1h-2zM1018 658h3v1h-3zM1024 659h1v1h-1zM1025 660h2v1h-2zM1030 661h3v1h-3zM1036 661h3v1h-3zM1042 660h3v1h-3zM1048 659h1v1h-1zM1049 658h2v1h-2zM1054 657h3v1h-3zM1060 656h1v1h-1zM1061 655h2v1h-2zM1066 654h3v1h-3zM1072 655h3v1h-3zM1078 656h3v1h-3zM1084 657h1v1h-1zM1085 658h2v1h-2zM1090 658h3v1h-3zM1096 659h3v1h-3zM1102 659h3v1h-3zM1108 659h1v1h-1zM1109 658h2v1h-2zM1114 658h3v1h-3zM1120 658h3v1h-3zM1126 658h3v1h-3zM1132 658h3v1h-3zM1138 658h3v1h-3zM1144 658h3v1h-3zM1150 659h3v1h-3zM1156 659h1v1h-1zM1157 660h2v1h-2zM1162 661h3v1h-3zM1168 662h1v1h-1zM1169 663h2v1h-2zM1174 664h2v1h-2zM1176 665h1v1h-1zM1180 667h2v1h-2zM1182 668h1v1h-1zM1186 669h3v1h-3zM1192 671h2v1h-2zM1194 672h1v1h-1zM1198 673h2v1h-2zM1200 674h1v1h-1zM1204 676h2v1h-2zM1206 677h1v1h-1zM1210 679h2v1h-2zM1212 680h1v1h-1zM1216 682h2v1h-2zM1218 683h1v1h-1zM1222 684h3v1h-3zM1228 685h1v1h-1zM1229 686h2v1h-2zM1234 687h3v1h-3zM1240 687h1v1h-1zM1241 686h2v1h-2zM1246 685h3v1h-3zM1252 684h3v1h-3zM1258 683h3v1h-3zM1264 683h1v1h-1zM1265 682h2v1h-2zM1270 681h1v1h-1z"/>
<text x="10" y="641.6" font-size="9.8" fill="#000" stroke="#000" stroke-width="0.15" textLength="154" lengthAdjust="spacingAndGlyphs" >MACD(12,26,9) -0.003041 -0.003986</text>
<text x="1603" y="640.6" font-size="9.8" fill="#000" stroke="#000" stroke-width="0.15" textLength="37.4" lengthAdjust="spacingAndGlyphs" >0.005818</text>
<rect x="1599" y="661" width="2" height="1" fill="#000"/>
<text x="1603" y="664.6" font-size="9.8" fill="#000" stroke="#000" stroke-width="0.15" textLength="17.4" lengthAdjust="spacingAndGlyphs" >0.00</text>
<text x="1603" y="718.1" font-size="9.8" fill="#000" stroke="#000" stroke-width="0.15" textLength="41.4" lengthAdjust="spacingAndGlyphs" >-0.011514</text>
<rect x="6" y="722" width="1" height="3" fill="#000"/>
<text x="5.2" y="734" font-size="9.8" fill="#000" stroke="#000" stroke-width="0.15" textLength="49.7" lengthAdjust="spacingAndGlyphs" >27 Jun 2019</text>
<rect x="70" y="722" width="1" height="3" fill="#000"/>
<text x="69.2" y="734" font-size="9.8" fill="#000" stroke="#000" stroke-width="0.15" textLength="46.7" lengthAdjust="spacingAndGlyphs" >16 Jul 2019</text>
<rect x="134" y="722" width="1" height="3" fill="#000"/>
<text x="133.2" y="734" font-size="9.8" fill="#000" stroke="#000" stroke-width="0.15" textLength="47.7" lengthAdjust="spacingAndGlyphs" >3 Aug 2019</text>
<rect x="198" y="722" width="1" height="3" fill="#000"/>
<text x="197.2" y="734" font-size="9.8" fill="#000" stroke="#000" stroke-width="0.15" textLength="52.1" lengthAdjust="spacingAndGlyphs" >22 Aug 2019</text>
<rect x="262" y="722" width="1" height="3" fill="#000"/>
<text x="261.2" y="734" font-size="9.8" fill="#000" stroke="#000" stroke-width="0.15" textLength="51.3" lengthAdjust="spacingAndGlyphs" >10 Sep 2019</text>
<rect x="326" y="722" width="1" height="3" fill="#000"/>
<text x="325.2" y="734" font-size="9.8" fill="#000" stroke="#000" stroke-width="0.15" textLength="51.9" lengthAdjust="spacingAndGlyphs" >28 Sep 2019</text>
<rect x="390" y="722" width="1" height="3" fill="#000"/>
<text x="389.2" y="734" font-size="9.8" fill="#000" stroke="#000" stroke-width="0.15" textLength="50.7" lengthAdjust="spacingAndGlyphs" >17 Oct 2019</text>
<rect x="454" y="722" width="1" height="3" fill="#000"/>
<text x="453.2" y="734" font-size="9.8" fill="#000" stroke="#000" stroke-width="0.15" textLength="48.7" lengthAdjust="spacingAndGlyphs" >5 Nov 2019</text>
<rect x="518" y="722" width="1" height="3" fill="#000"/>
<text x="517.2" y="734" font-size="9.8" fill="#000" stroke="#000" stroke-width="0.15" textLength="53.1" lengthAdjust="spacingAndGlyphs" >23 Nov 2019</text>
<rect x="582" y="722" width="1" height="3" fill="#000"/>
<text x="581.2" y="734" font-size="9.8" fill="#000" stroke="#000" stroke-width="0.15" textLength="51.3" lengthAdjust="spacingAndGlyphs" >12 Dec 2019</text>
<rect x="646" y="722" width="1" height="3" fill="#000"/>
<text x="645.2" y="734" font-size="9.8" fill="#000" stroke="#000" stroke-width="0.15" textLength="51.9" lengthAdjust="spacingAndGlyphs" >31 Dec 2019</text>
<rect x="710" y="722" width="1" height="3" fill="#000"/>
<text x="709.2" y="734" font-size="9.8" fill="#000" stroke="#000" stroke-width="0.15" textLength="49.7" lengthAdjust="spacingAndGlyphs" >18 Jan 2020</text>
<rect x="774" y="722" width="1" height="3" fill="#000"/>
<text x="773.2" y="734" font-size="9.8" fill="#000" stroke="#000" stroke-width="0.15" textLength="46.3" lengthAdjust="spacingAndGlyphs" >6 Feb 2020</text>
<rect x="838" y="722" width="1" height="3" fill="#000"/>
<text x="837.2" y="734" font-size="9.8" fill="#000" stroke="#000" stroke-width="0.15" textLength="51.3" lengthAdjust="spacingAndGlyphs" >25 Feb 2020</text>
<rect x="902" y="722" width="1" height="3" fill="#000"/>
<text x="901.2" y="734" font-size="9.8" fill="#000" stroke="#000" stroke-width="0.15" textLength="51.3" lengthAdjust="spacingAndGlyphs" >14 Mar 2020</text>
<rect x="966" y="722" width="1" height="3" fill="#000"/>
<text x="965.2" y="734" font-size="9.8" fill="#000" stroke="#000" stroke-width="0.15" textLength="45.9" lengthAdjust="spacingAndGlyphs" >2 Apr 2020</text>
<rect x="1030" y="722" width="1" height="3" fill="#000"/>
<text x="1029.2" y="734" font-size="9.8" fill="#000" stroke="#000" stroke-width="0.15" textLength="50.7" lengthAdjust="spacingAndGlyphs" >21 Apr 2020</text>
<rect x="1094" y="722" width="1" height="3" fill="#000"/>
<text x="1093.2" y="734" font-size="9.8" fill="#000" stroke="#000" stroke-width="0.15" textLength="49.3" lengthAdjust="spacingAndGlyphs" >9 May 2020</text>
<rect x="1158" y="722" width="1" height="3" fill="#000"/>
<text x="1157.2" y="734" font-size="9.8" fill="#000" stroke="#000" stroke-width="0.15" textLength="53.7" lengthAdjust="spacingAndGlyphs" >28 May 2020</text>
<rect x="1222" y="722" width="1" height="3" fill="#000"/>
<text x="1221.2" y="734" font-size="9.8" fill="#000" stroke="#000" stroke-width="0.15" textLength="49.7" lengthAdjust="spacingAndGlyphs" >16 Jun 2020</text>
<rect x="0" y="742" width="1641" height="1" fill="#e3e3e3"/>
<rect x="0" y="743" width="1641" height="1" fill="#f7f7f7"/>
<rect x="0" y="744" width="1641" height="19" fill="#f0f0f0"/>
<rect x="0" y="763" width="1641" height="3" fill="#fafafa"/>
<rect x="1" y="744" width="1641" height="1" fill="#000"/>
<rect x="1" y="744" width="2" height="18" fill="#1a1a1a"/>
<text x="19.4" y="759" font-size="12.7" fill="#6a6a6a" stroke="#6a6a6a" stroke-width="0" textLength="79.8" lengthAdjust="spacingAndGlyphs" >EURUSD,Daily</text>
<rect x="111" y="744" width="101" height="19" fill="#fff"/>
<rect x="111" y="744" width="1" height="19" fill="#000"/>
<rect x="211" y="744" width="1" height="19" fill="#000"/>
<rect x="111" y="762" width="101" height="1" fill="#000"/>
<text x="121.1" y="759" font-size="12.7" fill="#000" stroke="#000" stroke-width="0" textLength="79.3" lengthAdjust="spacingAndGlyphs" >USDCHF,Daily</text>
<text x="222.1" y="759" font-size="12.7" fill="#6a6a6a" stroke="#6a6a6a" stroke-width="0" textLength="81.9" lengthAdjust="spacingAndGlyphs" >AUDUSD,Daily</text>
<text x="326.2" y="759" font-size="12.7" fill="#6a6a6a" stroke="#6a6a6a" stroke-width="0" textLength="80.9" lengthAdjust="spacingAndGlyphs" >USDCAD,Daily</text>
<text x="429.1" y="759" font-size="12.7" fill="#6a6a6a" stroke="#6a6a6a" stroke-width="0" textLength="83.2" lengthAdjust="spacingAndGlyphs" >USDCNH,Daily</text>
<text x="534.3" y="759" font-size="12.7" fill="#6a6a6a" stroke="#6a6a6a" stroke-width="0" textLength="77.2" lengthAdjust="spacingAndGlyphs" >EURUSD,M15</text>
<text x="634.2" y="759" font-size="12.7" fill="#6a6a6a" stroke="#6a6a6a" stroke-width="0" textLength="77.3" lengthAdjust="spacingAndGlyphs" >GBPUSD,M30</text>
<text x="734" y="759" font-size="12.7" fill="#6a6a6a" stroke="#6a6a6a" stroke-width="0" textLength="81.2" lengthAdjust="spacingAndGlyphs" >XAUUSD,Daily</text>
<text x="838" y="759" font-size="12.7" fill="#6a6a6a" stroke="#6a6a6a" stroke-width="0" textLength="49.7" lengthAdjust="spacingAndGlyphs" >HK50,H1</text>
<text x="910.4" y="759" font-size="12.7" fill="#6a6a6a" stroke="#6a6a6a" stroke-width="0" textLength="55.8" lengthAdjust="spacingAndGlyphs" >UK100,H1</text>
<text x="990" y="759" font-size="12.7" fill="#6a6a6a" stroke="#6a6a6a" stroke-width="0" textLength="56.7" lengthAdjust="spacingAndGlyphs" >UK100,H1</text>
<text x="1070.1" y="759" font-size="12.7" fill="#6a6a6a" stroke="#6a6a6a" stroke-width="0" textLength="56.7" lengthAdjust="spacingAndGlyphs" >GER30,H1</text>
<text x="1148.8" y="759" font-size="12.7" fill="#6a6a6a" stroke="#6a6a6a" stroke-width="0" textLength="54.9" lengthAdjust="spacingAndGlyphs" >FRA40,H1</text>
<text x="1225.4" y="759" font-size="12.7" fill="#6a6a6a" stroke="#6a6a6a" stroke-width="0" textLength="50.8" lengthAdjust="spacingAndGlyphs" >USOil,H4</text>
<text x="1296.9" y="759" font-size="12.7" fill="#6a6a6a" stroke="#6a6a6a" stroke-width="0" textLength="62.7" lengthAdjust="spacingAndGlyphs" >USDJPY,H1</text>
<text x="1382" y="759" font-size="12.7" fill="#6a6a6a" stroke="#6a6a6a" stroke-width="0" textLength="56.6" lengthAdjust="spacingAndGlyphs" >DJ30,M15</text>
<rect x="315" y="747" width="1" height="13" fill="#707070"/>
<rect x="419" y="747" width="1" height="13" fill="#707070"/>
<rect x="523" y="747" width="1" height="13" fill="#707070"/>
<rect x="623" y="747" width="1" height="13" fill="#707070"/>
<rect x="723" y="747" width="1" height="13" fill="#707070"/>
<rect x="827" y="747" width="1" height="13" fill="#707070"/>
<rect x="899" y="747" width="1" height="13" fill="#707070"/>
<rect x="979" y="747" width="1" height="13" fill="#707070"/>
<rect x="1059" y="747" width="1" height="13" fill="#707070"/>
<rect x="1139" y="747" width="1" height="13" fill="#707070"/>
<rect x="1215" y="747" width="1" height="13" fill="#707070"/>
<rect x="1287" y="747" width="1" height="13" fill="#707070"/>
<rect x="1371" y="747" width="1" height="13" fill="#707070"/>
<rect x="1451" y="747" width="1" height="13" fill="#707070"/>
<path d="M1618 749 V757 L1613 753 Z M1632 749 V757 L1637 753 Z" fill="#a8a8a8" shape-rendering="geometricPrecision"/>
</svg>
</body></html>
